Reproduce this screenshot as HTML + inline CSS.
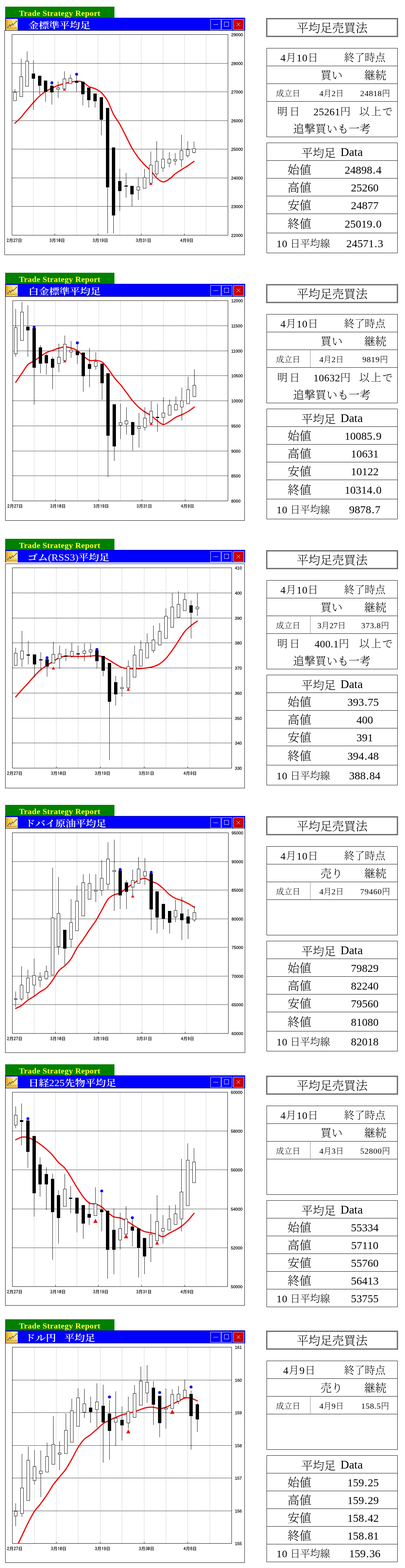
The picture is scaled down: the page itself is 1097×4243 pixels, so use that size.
<!DOCTYPE html><html><head><meta charset="utf-8"><title>平均足売買法</title><style>
html,body{margin:0;padding:0;background:#fff}
body{width:1097px;height:4243px;position:relative;overflow:hidden}
div,svg{position:absolute}
.gb{left:14px;width:296px;background:#008000}
.gb span{position:absolute;left:37.5px;top:6.5px;font:bold 22px/22px 'Liberation Serif','Noto Serif CJK JP','Noto Serif CJK SC',serif;letter-spacing:0.4px;color:#ffff33;white-space:nowrap}
.bb{left:14px;width:650px;background:#0000fe;border-top:1px solid #000088;box-sizing:border-box}
.tt{left:77px;font:600 28px/28px 'Liberation Serif','Noto Serif CJK JP','Noto Serif CJK SC',serif;color:#fff;white-space:nowrap;transform:scaleY(0.87);transform-origin:0 0}
.btn{width:29px;height:29px;background:#0000fe;border:1px solid #fff;box-sizing:border-box}
.btn.cl{background:#c80000}
.btn i{position:absolute;display:block}
.btn .mn{left:7px;top:13px;width:13px;height:1.4px;background:#fff}
.btn .mx{left:6px;top:6px;width:13px;height:13px;border:1.2px solid #fff;box-sizing:border-box}
.btn svg{left:0;top:0}
.ch text{font-family:'IPAGothic','Noto Sans CJK JP',sans-serif;font-size:12px;fill:#000;stroke:#000;stroke-width:0.3px}
.ch text.yl{font-family:'Liberation Sans',sans-serif;font-size:11.3px}
.tbox{left:721px;width:357px;height:51px;border:3px double #000;box-sizing:border-box}
.tb{left:722px;width:355px;border:1px solid #000;box-sizing:border-box}
.hl{left:722px;width:355px;height:1px;background:#000}
.vsep{left:840px;width:1px;background:repeating-linear-gradient(to bottom,#000 0 1px,transparent 1px 2px)}
.t{font-family:'Liberation Serif','Noto Serif CJK JP','Noto Serif CJK SC',serif;font-weight:300;line-height:1;text-align:center;white-space:nowrap;color:#000}
</style></head><body>
<div class="gb" style="top:18px;height:30px"><span>Trade Strategy Report</span></div>
<div class="bb" style="top:48px;height:34px"></div>
<svg class="ic" style="left:16px;top:51px" width="32" height="30.5" viewBox="0 0 32 30.5"><rect x="0" y="0" width="32" height="30.5" fill="#f2eca6"/><path d="M0 0 H12 C17 3 20 9 19 14 L30 25 V30.5 H0 Z" fill="#f7d055"/><path d="M0 0 H6 C10 4 12 10 11 16 L17 30.5 H0 Z" fill="#f4bd35" opacity="0.6"/><path d="M19 14 L30 25 V30.5 H20 Z" fill="#f8d860" opacity="0.7"/><rect x="0" y="27" width="32" height="3.5" fill="#f5c868"/><path d="M3.1 2.5 V25.3 H31" fill="none" stroke="#c07a18" stroke-width="1.3"/><path d="M1.5 6 H5 M1.5 9 H5 M1.5 12 H5 M1.5 15 H5 M1.5 18 H5 M1.5 21 H5" stroke="#d89a40" stroke-width="0.7"/><path d="M4.4 24.3 L10.7 15.8 L12.5 20.4 L17.9 12.8" fill="none" stroke="#4f5a6e" stroke-width="1.7" stroke-linejoin="miter"/><path d="M17.9 12.8 L19.4 16.1 L29 6.3" fill="none" stroke="#7a5a20" stroke-width="1.7"/><path d="M26.3 5.6 L30.2 4.9 L29.6 8.8 Z" fill="#7a5a20"/><path d="M27 23.6 L30 20.8" stroke="#777" stroke-width="0.9"/></svg>
<div class="tt" style="top:56.8px;left:77px;letter-spacing:0px;word-spacing:0px">金標準平均足</div>
<div class="btn" style="left:570px;top:52px"><i class="mn"></i></div>
<div class="btn" style="left:600px;top:52px"><i class="mx"></i></div>
<div class="btn cl" style="left:632px;top:52px"><svg width="27" height="27" viewBox="0 0 27 27"><path d="M7.8 8 L17.8 18 M17.8 8 L7.8 18" stroke="#fff" stroke-width="1"/></svg></div>
<svg class="ch" style="left:12px;top:82px" width="651" height="608" viewBox="12 82 651 608" shape-rendering="crispEdges"><rect x="12.5" y="82.5" width="650" height="607" fill="#fff" stroke="#000" stroke-width="1"/><line x1="90.5" y1="93" x2="90.5" y2="636" stroke="#d2d2d2" stroke-width="1"/><line x1="148.5" y1="93" x2="148.5" y2="636" stroke="#d2d2d2" stroke-width="1"/><line x1="207.5" y1="93" x2="207.5" y2="636" stroke="#d2d2d2" stroke-width="1"/><line x1="265.5" y1="93" x2="265.5" y2="636" stroke="#d2d2d2" stroke-width="1"/><line x1="324.5" y1="93" x2="324.5" y2="636" stroke="#d2d2d2" stroke-width="1"/><line x1="382.5" y1="93" x2="382.5" y2="636" stroke="#d2d2d2" stroke-width="1"/><line x1="441.5" y1="93" x2="441.5" y2="636" stroke="#d2d2d2" stroke-width="1"/><line x1="499.5" y1="93" x2="499.5" y2="636" stroke="#d2d2d2" stroke-width="1"/><line x1="558.5" y1="93" x2="558.5" y2="636" stroke="#d2d2d2" stroke-width="1"/><line x1="33" y1="171.5" x2="617" y2="171.5" stroke="#000" stroke-width="1" stroke-dasharray="3 1"/><line x1="33" y1="248.5" x2="617" y2="248.5" stroke="#000" stroke-width="1" stroke-dasharray="3 1"/><line x1="33" y1="326.5" x2="617" y2="326.5" stroke="#000" stroke-width="1" stroke-dasharray="3 1"/><line x1="33" y1="403.5" x2="617" y2="403.5" stroke="#000" stroke-width="1" stroke-dasharray="3 1"/><line x1="33" y1="481.5" x2="617" y2="481.5" stroke="#000" stroke-width="1" stroke-dasharray="3 1"/><line x1="33" y1="558.5" x2="617" y2="558.5" stroke="#000" stroke-width="1" stroke-dasharray="3 1"/><line x1="148.5" y1="632" x2="148.5" y2="636" stroke="#000" stroke-width="1"/><line x1="265.5" y1="632" x2="265.5" y2="636" stroke="#000" stroke-width="1"/><line x1="382.5" y1="632" x2="382.5" y2="636" stroke="#000" stroke-width="1"/><line x1="499.5" y1="632" x2="499.5" y2="636" stroke="#000" stroke-width="1"/><g shape-rendering="auto"><text x="626.3" y="97.9" class="yl">29000</text><text x="626.3" y="175.9" class="yl">28000</text><text x="626.3" y="252.9" class="yl">27000</text><text x="626.3" y="330.9" class="yl">26000</text><text x="626.3" y="407.9" class="yl">25000</text><text x="626.3" y="485.9" class="yl">24000</text><text x="626.3" y="562.9" class="yl">23000</text><text x="626.3" y="640.9" class="yl">22000</text><text x="39" y="654.8" class="xl" text-anchor="middle">2月27日</text><text x="155" y="654.8" class="xl" text-anchor="middle">3月10日</text><text x="272" y="654.8" class="xl" text-anchor="middle">3月19日</text><text x="389" y="654.8" class="xl" text-anchor="middle">3月31日</text><text x="506" y="654.8" class="xl" text-anchor="middle">4月9日</text></g><clipPath id="cp0"><rect x="33" y="94" width="584" height="542"/></clipPath><g clip-path="url(#cp0)"><g shape-rendering="auto"><circle cx="140.5" cy="223.93" r="3.9" fill="#0000ee"/><path d="M174.5 238.95 L179.1 245.55 L169.9 245.55 Z" fill="#ee1111"/><circle cx="207.5" cy="200.81" r="3.9" fill="#0000ee"/><path d="M408.5 494 L413.1 500.6 L403.9 500.6 Z" fill="#ee1111"/></g><path shape-rendering="auto" d="M40.5 333.24 C43.33 330.49 52 322.73 57.5 316.72 C63 310.71 68 303.71 73.5 297.2 C79 290.69 84.83 283.94 90.5 277.68 C96.17 271.43 102 264.68 107.5 259.67 C113 254.67 118 251.15 123.5 247.65 C129 244.15 134.83 241.4 140.5 238.65 C146.17 235.9 151.83 233.24 157.5 231.14 C163.17 229.04 169 227.43 174.5 226.03 C180 224.63 185 223.78 190.5 222.73 C196 221.68 201.83 219.83 207.5 219.73 C213.17 219.63 219 219.73 224.5 222.13 C230 224.53 235 231.14 240.5 234.14 C246 237.14 251.83 237.4 257.5 240.15 C263.17 242.9 268.83 245.16 274.5 250.66 C280.17 256.17 286 263.42 291.5 273.18 C297 282.94 302 298.71 307.5 309.22 C313 319.73 318.83 326.23 324.5 336.24 C330.17 346.25 336 358.52 341.5 369.28 C347 380.04 352 391.3 357.5 400.81 C363 410.32 368.83 418.82 374.5 426.33 C380.17 433.84 385.83 439.88 391.5 445.85 C397.17 451.82 403 456.19 408.5 462.16 C414 468.13 419 476.68 424.5 481.68 C430 486.69 435.83 491.69 441.5 492.19 C447.17 492.69 453 488.28 458.5 484.68 C464 481.08 469 474.82 474.5 470.57 C480 466.32 485.83 462.81 491.5 459.16 C497.17 455.51 502.83 452.4 508.5 448.65 C514.17 444.9 522.67 438.64 525.5 436.64" fill="none" stroke="#f00a0a" stroke-width="3.2" stroke-linejoin="round" stroke-linecap="round"/><line x1="40.5" y1="241" x2="40.5" y2="273" stroke="#000" stroke-width="1"/><rect x="36.5" y="249.5" width="8" height="23" fill="#fff" stroke="#000" stroke-width="1"/><line x1="57.5" y1="159" x2="57.5" y2="262" stroke="#000" stroke-width="1"/><rect x="53.5" y="207.5" width="8" height="54" fill="#fff" stroke="#000" stroke-width="1"/><line x1="73.5" y1="139" x2="73.5" y2="234" stroke="#000" stroke-width="1"/><rect x="69.5" y="165.5" width="8" height="68" fill="#fff" stroke="#000" stroke-width="1"/><line x1="90.5" y1="163" x2="90.5" y2="297" stroke="#000" stroke-width="1"/><rect x="86.5" y="199.5" width="8" height="13" fill="#000" stroke="#000" stroke-width="1"/><line x1="107.5" y1="205" x2="107.5" y2="256" stroke="#000" stroke-width="1"/><rect x="103.5" y="205.5" width="8" height="26" fill="#000" stroke="#000" stroke-width="1"/><line x1="123.5" y1="218" x2="123.5" y2="276" stroke="#000" stroke-width="1"/><rect x="119.5" y="218.5" width="8" height="29" fill="#000" stroke="#000" stroke-width="1"/><line x1="140.5" y1="228" x2="140.5" y2="283" stroke="#000" stroke-width="1"/><rect x="136.5" y="232.5" width="8" height="17" fill="#000" stroke="#000" stroke-width="1"/><line x1="157.5" y1="221" x2="157.5" y2="265" stroke="#000" stroke-width="1"/><rect x="153.5" y="237.5" width="8" height="4" fill="#fff" stroke="#000" stroke-width="1"/><line x1="174.5" y1="193" x2="174.5" y2="241" stroke="#000" stroke-width="1"/><rect x="170.5" y="213.5" width="8" height="27" fill="#fff" stroke="#000" stroke-width="1"/><line x1="190.5" y1="202" x2="190.5" y2="227" stroke="#000" stroke-width="1"/><rect x="186.5" y="211.5" width="8" height="15" fill="#fff" stroke="#000" stroke-width="1"/><line x1="207.5" y1="205" x2="207.5" y2="249" stroke="#000" stroke-width="1"/><rect x="203.5" y="219.5" width="8" height="4" fill="#000" stroke="#000" stroke-width="1"/><line x1="224.5" y1="221" x2="224.5" y2="285" stroke="#000" stroke-width="1"/><rect x="220.5" y="221.5" width="8" height="33" fill="#000" stroke="#000" stroke-width="1"/><line x1="240.5" y1="237" x2="240.5" y2="291" stroke="#000" stroke-width="1"/><rect x="236.5" y="237.5" width="8" height="33" fill="#000" stroke="#000" stroke-width="1"/><line x1="257.5" y1="253" x2="257.5" y2="291" stroke="#000" stroke-width="1"/><rect x="253.5" y="253.5" width="8" height="20" fill="#000" stroke="#000" stroke-width="1"/><line x1="274.5" y1="263" x2="274.5" y2="366" stroke="#000" stroke-width="1"/><rect x="270.5" y="263.5" width="8" height="60" fill="#000" stroke="#000" stroke-width="1"/><line x1="291.5" y1="292" x2="291.5" y2="632" stroke="#000" stroke-width="1"/><rect x="287.5" y="292.5" width="8" height="214" fill="#000" stroke="#000" stroke-width="1"/><line x1="307.5" y1="399" x2="307.5" y2="632" stroke="#000" stroke-width="1"/><rect x="303.5" y="399.5" width="8" height="183" fill="#000" stroke="#000" stroke-width="1"/><line x1="324.5" y1="457" x2="324.5" y2="571" stroke="#000" stroke-width="1"/><rect x="320.5" y="490.5" width="8" height="26" fill="#000" stroke="#000" stroke-width="1"/><line x1="341.5" y1="468" x2="341.5" y2="535" stroke="#000" stroke-width="1"/><rect x="337.5" y="502.5" width="8" height="2" fill="#000" stroke="#000" stroke-width="1"/><line x1="357.5" y1="503" x2="357.5" y2="559" stroke="#000" stroke-width="1"/><rect x="353.5" y="503.5" width="8" height="22" fill="#000" stroke="#000" stroke-width="1"/><line x1="374.5" y1="480" x2="374.5" y2="541" stroke="#000" stroke-width="1"/><rect x="370.5" y="505.5" width="8" height="9" fill="#fff" stroke="#000" stroke-width="1"/><line x1="391.5" y1="457" x2="391.5" y2="510" stroke="#000" stroke-width="1"/><rect x="387.5" y="480.5" width="8" height="29" fill="#fff" stroke="#000" stroke-width="1"/><line x1="408.5" y1="410" x2="408.5" y2="496" stroke="#000" stroke-width="1"/><rect x="404.5" y="446.5" width="8" height="49" fill="#fff" stroke="#000" stroke-width="1"/><line x1="424.5" y1="382" x2="424.5" y2="478" stroke="#000" stroke-width="1"/><rect x="420.5" y="436.5" width="8" height="34" fill="#fff" stroke="#000" stroke-width="1"/><line x1="441.5" y1="405" x2="441.5" y2="465" stroke="#000" stroke-width="1"/><rect x="437.5" y="430.5" width="8" height="24" fill="#fff" stroke="#000" stroke-width="1"/><line x1="458.5" y1="412" x2="458.5" y2="453" stroke="#000" stroke-width="1"/><rect x="454.5" y="430.5" width="8" height="11" fill="#fff" stroke="#000" stroke-width="1"/><line x1="474.5" y1="414" x2="474.5" y2="447" stroke="#000" stroke-width="1"/><rect x="470.5" y="431.5" width="8" height="4" fill="#fff" stroke="#000" stroke-width="1"/><line x1="491.5" y1="365" x2="491.5" y2="453" stroke="#000" stroke-width="1"/><rect x="487.5" y="407.5" width="8" height="25" fill="#fff" stroke="#000" stroke-width="1"/><line x1="508.5" y1="382" x2="508.5" y2="426" stroke="#000" stroke-width="1"/><rect x="504.5" y="404.5" width="8" height="17" fill="#fff" stroke="#000" stroke-width="1"/><line x1="525.5" y1="383" x2="525.5" y2="415" stroke="#000" stroke-width="1"/><rect x="521.5" y="402.5" width="8" height="10" fill="#fff" stroke="#000" stroke-width="1"/></g><rect x="32.5" y="93.5" width="585" height="543" fill="none" stroke="#000" stroke-width="1"/></svg>
<div class="tbox" style="top:49px"></div>
<div class="t" style="top:60.2px;left:721px;width:357px;font-size:32px">平均足売買法</div>
<div class="tb" style="top:130px;height:241px"></div>
<div class="hl" style="top:178px"></div>
<div class="hl" style="top:226px"></div>
<div class="hl" style="top:274px"></div>
<div class="t" style="top:142.8px;left:722px;width:178px;font-size:28px;letter-spacing:1px">4月10日</div>
<div class="t" style="top:142.8px;left:900px;width:176px;font-size:28px">終了時点</div>
<div class="t" style="top:188.8px;left:839px;width:118px;font-size:30px">買い</div>
<div class="t" style="top:188.8px;left:957px;width:119px;font-size:30px">継続</div>
<div class="t" style="top:241.8px;left:722px;width:117px;font-size:22px">成立日</div>
<div class="t" style="top:241.8px;left:839px;width:118px;font-size:22px">4月2日</div>
<div class="t" style="top:241.8px;left:957px;width:119px;font-size:22px;letter-spacing:0.8px">24818円</div>
<div class="t" style="top:288.8px;left:722px;width:354px;height:30px;font-size:28px"><span style="position:absolute;left:29px;top:0;letter-spacing:5px">明日</span><span style="position:absolute;left:127px;top:0;width:100px;text-align:center;letter-spacing:0.5px">25261円</span><span style="position:absolute;left:251px;top:0;letter-spacing:3.5px">以上で</span></div>
<div class="t" style="top:333.8px;left:722px;width:354px;font-size:30px">追撃買いも一考</div>
<div class="tb" style="top:386px;height:299px"></div>
<div class="hl" style="top:434px"></div>
<div class="hl" style="top:482px"></div>
<div class="hl" style="top:530px"></div>
<div class="hl" style="top:578px"></div>
<div class="hl" style="top:630px"></div>
<div class="t" style="top:397.8px;left:722px;width:355px;font-size:31px">平均足<span style="display:inline-block;width:13px"></span><span style="font-size:32px;position:relative;top:-2.5px">Data</span></div>
<div class="t" style="top:443.8px;left:722px;width:178px;font-size:32px">始値</div>
<div class="t" style="top:444.8px;left:895.5px;width:176px;font-size:30px">24898<span style="display:inline-block;width:10px;text-align:center">.</span>4</div>
<div class="t" style="top:491.8px;left:722px;width:178px;font-size:32px">高値</div>
<div class="t" style="top:492.8px;left:900px;width:176px;font-size:30px">25260</div>
<div class="t" style="top:539.8px;left:722px;width:178px;font-size:32px">安値</div>
<div class="t" style="top:540.8px;left:900px;width:176px;font-size:30px">24877</div>
<div class="t" style="top:589.8px;left:722px;width:178px;font-size:32px">終値</div>
<div class="t" style="top:590.8px;left:895.5px;width:176px;font-size:30px">25019<span style="display:inline-block;width:10px;text-align:center">.</span>0</div>
<div class="t" style="top:646.3px;left:722px;width:200px;font-size:27px;text-align:left;padding-left:27px"><span style="font-size:28px;letter-spacing:1px">10</span><span style="display:inline-block;width:7px"></span>日平均線</div>
<div class="t" style="top:643.8px;left:900px;width:176px;font-size:30px">24571<span style="display:inline-block;width:10px;text-align:center">.</span>3</div>
<div class="gb" style="top:738px;height:30px"><span>Trade Strategy Report</span></div>
<div class="bb" style="top:768px;height:34px"></div>
<svg class="ic" style="left:16px;top:771px" width="32" height="30.5" viewBox="0 0 32 30.5"><rect x="0" y="0" width="32" height="30.5" fill="#f2eca6"/><path d="M0 0 H12 C17 3 20 9 19 14 L30 25 V30.5 H0 Z" fill="#f7d055"/><path d="M0 0 H6 C10 4 12 10 11 16 L17 30.5 H0 Z" fill="#f4bd35" opacity="0.6"/><path d="M19 14 L30 25 V30.5 H20 Z" fill="#f8d860" opacity="0.7"/><rect x="0" y="27" width="32" height="3.5" fill="#f5c868"/><path d="M3.1 2.5 V25.3 H31" fill="none" stroke="#c07a18" stroke-width="1.3"/><path d="M1.5 6 H5 M1.5 9 H5 M1.5 12 H5 M1.5 15 H5 M1.5 18 H5 M1.5 21 H5" stroke="#d89a40" stroke-width="0.7"/><path d="M4.4 24.3 L10.7 15.8 L12.5 20.4 L17.9 12.8" fill="none" stroke="#4f5a6e" stroke-width="1.7" stroke-linejoin="miter"/><path d="M17.9 12.8 L19.4 16.1 L29 6.3" fill="none" stroke="#7a5a20" stroke-width="1.7"/><path d="M26.3 5.6 L30.2 4.9 L29.6 8.8 Z" fill="#7a5a20"/><path d="M27 23.6 L30 20.8" stroke="#777" stroke-width="0.9"/></svg>
<div class="tt" style="top:776.8px;left:77px;letter-spacing:0px;word-spacing:0px">白金標準平均足</div>
<div class="btn" style="left:570px;top:772px"><i class="mn"></i></div>
<div class="btn" style="left:600px;top:772px"><i class="mx"></i></div>
<div class="btn cl" style="left:632px;top:772px"><svg width="27" height="27" viewBox="0 0 27 27"><path d="M7.8 8 L17.8 18 M17.8 8 L7.8 18" stroke="#fff" stroke-width="1"/></svg></div>
<svg class="ch" style="left:14px;top:802px" width="649" height="607" viewBox="14 802 649 607" shape-rendering="crispEdges"><rect x="14.5" y="802.5" width="648" height="606" fill="#fff" stroke="#000" stroke-width="1"/><line x1="92.5" y1="813" x2="92.5" y2="1355" stroke="#d2d2d2" stroke-width="1"/><line x1="150.5" y1="813" x2="150.5" y2="1355" stroke="#d2d2d2" stroke-width="1"/><line x1="209.5" y1="813" x2="209.5" y2="1355" stroke="#d2d2d2" stroke-width="1"/><line x1="267.5" y1="813" x2="267.5" y2="1355" stroke="#d2d2d2" stroke-width="1"/><line x1="326.5" y1="813" x2="326.5" y2="1355" stroke="#d2d2d2" stroke-width="1"/><line x1="384.5" y1="813" x2="384.5" y2="1355" stroke="#d2d2d2" stroke-width="1"/><line x1="442.5" y1="813" x2="442.5" y2="1355" stroke="#d2d2d2" stroke-width="1"/><line x1="501.5" y1="813" x2="501.5" y2="1355" stroke="#d2d2d2" stroke-width="1"/><line x1="559.5" y1="813" x2="559.5" y2="1355" stroke="#d2d2d2" stroke-width="1"/><line x1="35" y1="881.5" x2="617" y2="881.5" stroke="#000" stroke-width="1" stroke-dasharray="3 1"/><line x1="35" y1="949.5" x2="617" y2="949.5" stroke="#000" stroke-width="1" stroke-dasharray="3 1"/><line x1="35" y1="1016.5" x2="617" y2="1016.5" stroke="#000" stroke-width="1" stroke-dasharray="3 1"/><line x1="35" y1="1084.5" x2="617" y2="1084.5" stroke="#000" stroke-width="1" stroke-dasharray="3 1"/><line x1="35" y1="1152.5" x2="617" y2="1152.5" stroke="#000" stroke-width="1" stroke-dasharray="3 1"/><line x1="35" y1="1220.5" x2="617" y2="1220.5" stroke="#000" stroke-width="1" stroke-dasharray="3 1"/><line x1="35" y1="1287.5" x2="617" y2="1287.5" stroke="#000" stroke-width="1" stroke-dasharray="3 1"/><line x1="150.5" y1="1351" x2="150.5" y2="1355" stroke="#000" stroke-width="1"/><line x1="267.5" y1="1351" x2="267.5" y2="1355" stroke="#000" stroke-width="1"/><line x1="384.5" y1="1351" x2="384.5" y2="1355" stroke="#000" stroke-width="1"/><line x1="501.5" y1="1351" x2="501.5" y2="1355" stroke="#000" stroke-width="1"/><g shape-rendering="auto"><text x="626.3" y="817.9" class="yl">12000</text><text x="626.3" y="885.9" class="yl">11500</text><text x="626.3" y="953.9" class="yl">11000</text><text x="626.3" y="1020.9" class="yl">10500</text><text x="626.3" y="1088.9" class="yl">10000</text><text x="626.3" y="1156.9" class="yl">9500</text><text x="626.3" y="1224.9" class="yl">9000</text><text x="626.3" y="1291.9" class="yl">8500</text><text x="626.3" y="1359.9" class="yl">8000</text><text x="41" y="1373.8" class="xl" text-anchor="middle">2月27日</text><text x="157" y="1373.8" class="xl" text-anchor="middle">3月10日</text><text x="274" y="1373.8" class="xl" text-anchor="middle">3月19日</text><text x="391" y="1373.8" class="xl" text-anchor="middle">3月31日</text><text x="508" y="1373.8" class="xl" text-anchor="middle">4月9日</text></g><clipPath id="cp1"><rect x="35" y="814" width="582" height="541"/></clipPath><g clip-path="url(#cp1)"><g shape-rendering="auto"><circle cx="92.5" cy="885.07" r="3.9" fill="#0000ee"/><path d="M175.5 973.36 L180.1 980.57 L170.9 980.57 Z" fill="#ee1111"/><circle cx="209.5" cy="927.71" r="3.9" fill="#0000ee"/><path d="M409.5 1143.03 L414.1 1150.24 L404.9 1150.24 Z" fill="#ee1111"/></g><path shape-rendering="auto" d="M42.5 1034.62 C45.33 1030.47 54 1017.71 59.5 1009.7 C65 1001.69 70 992.08 75.5 986.57 C81 981.06 86.83 980.31 92.5 976.66 C98.17 973.01 104 968.4 109.5 964.65 C115 960.9 120 956.89 125.5 954.14 C131 951.39 136.83 950.14 142.5 948.14 C148.17 946.14 154 943.73 159.5 942.13 C165 940.53 170 938.63 175.5 938.53 C181 938.43 186.83 939.83 192.5 941.53 C198.17 943.23 204 945.14 209.5 948.74 C215 952.34 220 958.75 225.5 963.15 C231 967.55 236.83 973.16 242.5 975.16 C248.17 977.16 253.83 974.41 259.5 975.16 C265.17 975.91 271 975.92 276.5 979.67 C282 983.42 287 990.67 292.5 997.68 C298 1004.69 303.83 1014.45 309.5 1021.71 C315.17 1028.97 321 1034.47 326.5 1041.23 C332 1047.99 337 1054.99 342.5 1062.25 C348 1069.51 353.83 1078.01 359.5 1084.77 C365.17 1091.53 371 1097.78 376.5 1102.79 C382 1107.8 387 1111.15 392.5 1114.8 C398 1118.45 403.83 1120.7 409.5 1124.71 C415.17 1128.72 421 1134.82 426.5 1138.83 C432 1142.84 437 1148.49 442.5 1148.74 C448 1148.99 453.83 1143.63 459.5 1140.33 C465.17 1137.03 471 1131.92 476.5 1128.92 C482 1125.92 487 1124.91 492.5 1122.31 C498 1119.71 503.83 1116.8 509.5 1113.3 C515.17 1109.8 523.67 1103.29 526.5 1101.29" fill="none" stroke="#f00a0a" stroke-width="3.2" stroke-linejoin="round" stroke-linecap="round"/><line x1="42.5" y1="836" x2="42.5" y2="965" stroke="#000" stroke-width="1"/><rect x="38.5" y="886.5" width="8" height="71" fill="#fff" stroke="#000" stroke-width="1"/><line x1="59.5" y1="817" x2="59.5" y2="922" stroke="#000" stroke-width="1"/><rect x="55.5" y="844.5" width="8" height="77" fill="#fff" stroke="#000" stroke-width="1"/><line x1="75.5" y1="826" x2="75.5" y2="965" stroke="#000" stroke-width="1"/><rect x="71.5" y="884.5" width="8" height="9" fill="#000" stroke="#000" stroke-width="1"/><line x1="92.5" y1="888" x2="92.5" y2="1095" stroke="#000" stroke-width="1"/><rect x="88.5" y="888.5" width="8" height="106" fill="#000" stroke="#000" stroke-width="1"/><line x1="109.5" y1="934" x2="109.5" y2="1010" stroke="#000" stroke-width="1"/><rect x="105.5" y="940.5" width="8" height="43" fill="#000" stroke="#000" stroke-width="1"/><line x1="125.5" y1="956" x2="125.5" y2="1014" stroke="#000" stroke-width="1"/><rect x="121.5" y="961.5" width="8" height="21" fill="#000" stroke="#000" stroke-width="1"/><line x1="142.5" y1="965" x2="142.5" y2="1053" stroke="#000" stroke-width="1"/><rect x="138.5" y="971.5" width="8" height="23" fill="#000" stroke="#000" stroke-width="1"/><line x1="159.5" y1="930" x2="159.5" y2="1007" stroke="#000" stroke-width="1"/><rect x="155.5" y="966.5" width="8" height="17" fill="#fff" stroke="#000" stroke-width="1"/><line x1="175.5" y1="908" x2="175.5" y2="976" stroke="#000" stroke-width="1"/><rect x="171.5" y="931.5" width="8" height="44" fill="#fff" stroke="#000" stroke-width="1"/><line x1="192.5" y1="923" x2="192.5" y2="968" stroke="#000" stroke-width="1"/><rect x="188.5" y="947.5" width="8" height="5" fill="#fff" stroke="#000" stroke-width="1"/><line x1="209.5" y1="932" x2="209.5" y2="985" stroke="#000" stroke-width="1"/><rect x="205.5" y="950.5" width="8" height="10" fill="#000" stroke="#000" stroke-width="1"/><line x1="225.5" y1="954" x2="225.5" y2="1060" stroke="#000" stroke-width="1"/><rect x="221.5" y="954.5" width="8" height="63" fill="#000" stroke="#000" stroke-width="1"/><line x1="242.5" y1="942" x2="242.5" y2="1048" stroke="#000" stroke-width="1"/><rect x="238.5" y="985.5" width="8" height="12" fill="#000" stroke="#000" stroke-width="1"/><line x1="259.5" y1="953" x2="259.5" y2="1000" stroke="#000" stroke-width="1"/><rect x="255.5" y="978.5" width="8" height="13" fill="#fff" stroke="#000" stroke-width="1"/><line x1="276.5" y1="984" x2="276.5" y2="1082" stroke="#000" stroke-width="1"/><rect x="272.5" y="984.5" width="8" height="52" fill="#000" stroke="#000" stroke-width="1"/><line x1="292.5" y1="1010" x2="292.5" y2="1291" stroke="#000" stroke-width="1"/><rect x="288.5" y="1010.5" width="8" height="168" fill="#000" stroke="#000" stroke-width="1"/><line x1="309.5" y1="1094" x2="309.5" y2="1247" stroke="#000" stroke-width="1"/><rect x="305.5" y="1094.5" width="8" height="113" fill="#000" stroke="#000" stroke-width="1"/><line x1="326.5" y1="1092" x2="326.5" y2="1188" stroke="#000" stroke-width="1"/><rect x="322.5" y="1143.5" width="8" height="7" fill="#fff" stroke="#000" stroke-width="1"/><line x1="342.5" y1="1102" x2="342.5" y2="1176" stroke="#000" stroke-width="1"/><rect x="338.5" y="1138.5" width="8" height="9" fill="#fff" stroke="#000" stroke-width="1"/><line x1="359.5" y1="1142" x2="359.5" y2="1219" stroke="#000" stroke-width="1"/><rect x="355.5" y="1142.5" width="8" height="34" fill="#000" stroke="#000" stroke-width="1"/><line x1="376.5" y1="1118" x2="376.5" y2="1211" stroke="#000" stroke-width="1"/><rect x="372.5" y="1154.5" width="8" height="5" fill="#fff" stroke="#000" stroke-width="1"/><line x1="392.5" y1="1102" x2="392.5" y2="1165" stroke="#000" stroke-width="1"/><rect x="388.5" y="1131.5" width="8" height="25" fill="#fff" stroke="#000" stroke-width="1"/><line x1="409.5" y1="1086" x2="409.5" y2="1145" stroke="#000" stroke-width="1"/><rect x="405.5" y="1112.5" width="8" height="32" fill="#fff" stroke="#000" stroke-width="1"/><line x1="426.5" y1="1092" x2="426.5" y2="1168" stroke="#000" stroke-width="1"/><rect x="422.5" y="1128.5" width="8" height="2" fill="#000" stroke="#000" stroke-width="1"/><line x1="442.5" y1="1075" x2="442.5" y2="1150" stroke="#000" stroke-width="1"/><rect x="438.5" y="1117.5" width="8" height="12" fill="#fff" stroke="#000" stroke-width="1"/><line x1="459.5" y1="1081" x2="459.5" y2="1124" stroke="#000" stroke-width="1"/><rect x="455.5" y="1096.5" width="8" height="27" fill="#fff" stroke="#000" stroke-width="1"/><line x1="476.5" y1="1073" x2="476.5" y2="1111" stroke="#000" stroke-width="1"/><rect x="472.5" y="1094.5" width="8" height="15" fill="#fff" stroke="#000" stroke-width="1"/><line x1="492.5" y1="1049" x2="492.5" y2="1138" stroke="#000" stroke-width="1"/><rect x="488.5" y="1084.5" width="8" height="17" fill="#fff" stroke="#000" stroke-width="1"/><line x1="509.5" y1="1019" x2="509.5" y2="1093" stroke="#000" stroke-width="1"/><rect x="505.5" y="1054.5" width="8" height="38" fill="#fff" stroke="#000" stroke-width="1"/><line x1="526.5" y1="999" x2="526.5" y2="1074" stroke="#000" stroke-width="1"/><rect x="522.5" y="1042.5" width="8" height="31" fill="#fff" stroke="#000" stroke-width="1"/></g><rect x="34.5" y="813.5" width="583" height="542" fill="none" stroke="#000" stroke-width="1"/></svg>
<div class="tbox" style="top:769px"></div>
<div class="t" style="top:780.2px;left:721px;width:357px;font-size:32px">平均足売買法</div>
<div class="tb" style="top:850px;height:241px"></div>
<div class="hl" style="top:898px"></div>
<div class="hl" style="top:946px"></div>
<div class="hl" style="top:994px"></div>
<div class="vsep" style="top:948px;height:46px"></div>
<div class="t" style="top:862.8px;left:722px;width:178px;font-size:28px;letter-spacing:1px">4月10日</div>
<div class="t" style="top:862.8px;left:900px;width:176px;font-size:28px">終了時点</div>
<div class="t" style="top:908.8px;left:839px;width:118px;font-size:30px">買い</div>
<div class="t" style="top:908.8px;left:957px;width:119px;font-size:30px">継続</div>
<div class="t" style="top:961.8px;left:722px;width:117px;font-size:22px">成立日</div>
<div class="t" style="top:961.8px;left:839px;width:118px;font-size:22px">4月2日</div>
<div class="t" style="top:961.8px;left:957px;width:119px;font-size:22px;letter-spacing:0.8px">9819円</div>
<div class="t" style="top:1008.8px;left:722px;width:354px;height:30px;font-size:28px"><span style="position:absolute;left:29px;top:0;letter-spacing:5px">明日</span><span style="position:absolute;left:127px;top:0;width:100px;text-align:center;letter-spacing:0.5px">10632円</span><span style="position:absolute;left:251px;top:0;letter-spacing:3.5px">以上で</span></div>
<div class="t" style="top:1053.8px;left:722px;width:354px;font-size:30px">追撃買いも一考</div>
<div class="tb" style="top:1106px;height:299px"></div>
<div class="hl" style="top:1154px"></div>
<div class="hl" style="top:1202px"></div>
<div class="hl" style="top:1250px"></div>
<div class="hl" style="top:1298px"></div>
<div class="hl" style="top:1350px"></div>
<div class="t" style="top:1117.8px;left:722px;width:355px;font-size:31px">平均足<span style="display:inline-block;width:13px"></span><span style="font-size:32px;position:relative;top:-2.5px">Data</span></div>
<div class="t" style="top:1163.8px;left:722px;width:178px;font-size:32px">始値</div>
<div class="t" style="top:1164.8px;left:895.5px;width:176px;font-size:30px">10085<span style="display:inline-block;width:10px;text-align:center">.</span>9</div>
<div class="t" style="top:1211.8px;left:722px;width:178px;font-size:32px">高値</div>
<div class="t" style="top:1212.8px;left:900px;width:176px;font-size:30px">10631</div>
<div class="t" style="top:1259.8px;left:722px;width:178px;font-size:32px">安値</div>
<div class="t" style="top:1260.8px;left:900px;width:176px;font-size:30px">10122</div>
<div class="t" style="top:1309.8px;left:722px;width:178px;font-size:32px">終値</div>
<div class="t" style="top:1310.8px;left:895.5px;width:176px;font-size:30px">10314<span style="display:inline-block;width:10px;text-align:center">.</span>0</div>
<div class="t" style="top:1366.3px;left:722px;width:200px;font-size:27px;text-align:left;padding-left:27px"><span style="font-size:28px;letter-spacing:1px">10</span><span style="display:inline-block;width:7px"></span>日平均線</div>
<div class="t" style="top:1363.8px;left:900px;width:176px;font-size:30px">9878<span style="display:inline-block;width:10px;text-align:center">.</span>7</div>
<div class="gb" style="top:1458px;height:30px"><span>Trade Strategy Report</span></div>
<div class="bb" style="top:1488px;height:34px"></div>
<svg class="ic" style="left:16px;top:1491px" width="32" height="30.5" viewBox="0 0 32 30.5"><rect x="0" y="0" width="32" height="30.5" fill="#f2eca6"/><path d="M0 0 H12 C17 3 20 9 19 14 L30 25 V30.5 H0 Z" fill="#f7d055"/><path d="M0 0 H6 C10 4 12 10 11 16 L17 30.5 H0 Z" fill="#f4bd35" opacity="0.6"/><path d="M19 14 L30 25 V30.5 H20 Z" fill="#f8d860" opacity="0.7"/><rect x="0" y="27" width="32" height="3.5" fill="#f5c868"/><path d="M3.1 2.5 V25.3 H31" fill="none" stroke="#c07a18" stroke-width="1.3"/><path d="M1.5 6 H5 M1.5 9 H5 M1.5 12 H5 M1.5 15 H5 M1.5 18 H5 M1.5 21 H5" stroke="#d89a40" stroke-width="0.7"/><path d="M4.4 24.3 L10.7 15.8 L12.5 20.4 L17.9 12.8" fill="none" stroke="#4f5a6e" stroke-width="1.7" stroke-linejoin="miter"/><path d="M17.9 12.8 L19.4 16.1 L29 6.3" fill="none" stroke="#7a5a20" stroke-width="1.7"/><path d="M26.3 5.6 L30.2 4.9 L29.6 8.8 Z" fill="#7a5a20"/><path d="M27 23.6 L30 20.8" stroke="#777" stroke-width="0.9"/></svg>
<div class="tt" style="top:1496.8px;left:74px;letter-spacing:0px;word-spacing:0px">ゴム<span style="font-weight:400">(RSS3)</span>平均足</div>
<div class="btn" style="left:570px;top:1492px"><i class="mn"></i></div>
<div class="btn" style="left:600px;top:1492px"><i class="mx"></i></div>
<div class="btn cl" style="left:632px;top:1492px"><svg width="27" height="27" viewBox="0 0 27 27"><path d="M7.8 8 L17.8 18 M17.8 8 L7.8 18" stroke="#fff" stroke-width="1"/></svg></div>
<svg class="ch" style="left:14px;top:1525px" width="649" height="608" viewBox="14 1525 649 608" shape-rendering="crispEdges"><rect x="14.5" y="1525.5" width="648" height="607" fill="#fff" stroke="#000" stroke-width="1"/><line x1="93.5" y1="1536" x2="93.5" y2="2078" stroke="#d2d2d2" stroke-width="1"/><line x1="152.5" y1="1536" x2="152.5" y2="2078" stroke="#d2d2d2" stroke-width="1"/><line x1="211.5" y1="1536" x2="211.5" y2="2078" stroke="#d2d2d2" stroke-width="1"/><line x1="271.5" y1="1536" x2="271.5" y2="2078" stroke="#d2d2d2" stroke-width="1"/><line x1="330.5" y1="1536" x2="330.5" y2="2078" stroke="#d2d2d2" stroke-width="1"/><line x1="390.5" y1="1536" x2="390.5" y2="2078" stroke="#d2d2d2" stroke-width="1"/><line x1="449.5" y1="1536" x2="449.5" y2="2078" stroke="#d2d2d2" stroke-width="1"/><line x1="508.5" y1="1536" x2="508.5" y2="2078" stroke="#d2d2d2" stroke-width="1"/><line x1="568.5" y1="1536" x2="568.5" y2="2078" stroke="#d2d2d2" stroke-width="1"/><line x1="34" y1="1604.5" x2="627" y2="1604.5" stroke="#000" stroke-width="1" stroke-dasharray="3 1"/><line x1="34" y1="1672.5" x2="627" y2="1672.5" stroke="#000" stroke-width="1" stroke-dasharray="3 1"/><line x1="34" y1="1739.5" x2="627" y2="1739.5" stroke="#000" stroke-width="1" stroke-dasharray="3 1"/><line x1="34" y1="1807.5" x2="627" y2="1807.5" stroke="#000" stroke-width="1" stroke-dasharray="3 1"/><line x1="34" y1="1875.5" x2="627" y2="1875.5" stroke="#000" stroke-width="1" stroke-dasharray="3 1"/><line x1="34" y1="1943.5" x2="627" y2="1943.5" stroke="#000" stroke-width="1" stroke-dasharray="3 1"/><line x1="34" y1="2010.5" x2="627" y2="2010.5" stroke="#000" stroke-width="1" stroke-dasharray="3 1"/><line x1="152.5" y1="2074" x2="152.5" y2="2078" stroke="#000" stroke-width="1"/><line x1="271.5" y1="2074" x2="271.5" y2="2078" stroke="#000" stroke-width="1"/><line x1="390.5" y1="2074" x2="390.5" y2="2078" stroke="#000" stroke-width="1"/><line x1="508.5" y1="2074" x2="508.5" y2="2078" stroke="#000" stroke-width="1"/><g shape-rendering="auto"><text x="636.3" y="1540.9" class="yl">410</text><text x="636.3" y="1608.9" class="yl">400</text><text x="636.3" y="1676.9" class="yl">390</text><text x="636.3" y="1743.9" class="yl">380</text><text x="636.3" y="1811.9" class="yl">370</text><text x="636.3" y="1879.9" class="yl">360</text><text x="636.3" y="1947.9" class="yl">350</text><text x="636.3" y="2014.9" class="yl">340</text><text x="636.3" y="2082.9" class="yl">330</text><text x="40" y="2096.8" class="xl" text-anchor="middle">2月27日</text><text x="159" y="2096.8" class="xl" text-anchor="middle">3月10日</text><text x="278" y="2096.8" class="xl" text-anchor="middle">3月19日</text><text x="397" y="2096.8" class="xl" text-anchor="middle">3月31日</text><text x="515" y="2096.8" class="xl" text-anchor="middle">4月9日</text></g><clipPath id="cp2"><rect x="34" y="1537" width="593" height="541"/></clipPath><g clip-path="url(#cp2)"><g shape-rendering="auto"><circle cx="127.5" cy="1779.84" r="3.9" fill="#0000ee"/><path d="M144.5 1803.57 L149.1 1811.68 L139.9 1811.68 Z" fill="#ee1111"/><circle cx="262.5" cy="1757.32" r="3.9" fill="#0000ee"/><path d="M347.5 1860.63 L352.1 1869.33 L342.9 1869.33 Z" fill="#ee1111"/></g><path shape-rendering="auto" d="M42.5 1885.85 C45.33 1882.6 53.83 1872.59 59.5 1866.33 C65.17 1860.07 70.83 1854.57 76.5 1848.31 C82.17 1842.05 87.83 1834.8 93.5 1828.79 C99.17 1822.78 104.83 1817.03 110.5 1812.28 C116.17 1807.53 121.83 1804.01 127.5 1800.26 C133.17 1796.51 138.83 1793.25 144.5 1789.75 C150.17 1786.25 155.83 1781.64 161.5 1779.24 C167.17 1776.84 173 1775.84 178.5 1775.34 C184 1774.84 189 1776.09 194.5 1776.24 C200 1776.39 205.83 1776.24 211.5 1776.24 C217.17 1776.24 222.83 1776.39 228.5 1776.24 C234.17 1776.09 239.83 1775.69 245.5 1775.34 C251.17 1774.99 256.83 1773.74 262.5 1774.14 C268.17 1774.54 273.83 1775.64 279.5 1777.74 C285.17 1779.84 290.83 1783.5 296.5 1786.75 C302.17 1790 307.83 1794.01 313.5 1797.26 C319.17 1800.51 324.83 1804.27 330.5 1806.27 C336.17 1808.27 341.83 1808.67 347.5 1809.27 C353.17 1809.87 358.83 1809.87 364.5 1809.87 C370.17 1809.87 375.83 1809.72 381.5 1809.27 C387.17 1808.82 392.83 1808.07 398.5 1807.17 C404.17 1806.27 409.83 1805.67 415.5 1803.87 C421.17 1802.07 426.83 1800.06 432.5 1796.36 C438.17 1792.66 443.83 1787.76 449.5 1781.65 C455.17 1775.54 460.83 1767.63 466.5 1759.72 C472.17 1751.81 477.83 1742.71 483.5 1734.2 C489.17 1725.69 494.83 1715.58 500.5 1708.67 C506.17 1701.76 511.83 1697.41 517.5 1692.76 C523.17 1688.11 531.67 1682.74 534.5 1680.74" fill="none" stroke="#f00a0a" stroke-width="3.2" stroke-linejoin="round" stroke-linecap="round"/><line x1="42.5" y1="1753" x2="42.5" y2="1801" stroke="#000" stroke-width="1"/><rect x="38.5" y="1767.5" width="8" height="33" fill="#fff" stroke="#000" stroke-width="1"/><line x1="59.5" y1="1707" x2="59.5" y2="1805" stroke="#000" stroke-width="1"/><rect x="55.5" y="1761.5" width="8" height="22" fill="#fff" stroke="#000" stroke-width="1"/><line x1="76.5" y1="1734" x2="76.5" y2="1798" stroke="#000" stroke-width="1"/><rect x="72.5" y="1771.5" width="8" height="2" fill="#000" stroke="#000" stroke-width="1"/><line x1="93.5" y1="1771" x2="93.5" y2="1833" stroke="#000" stroke-width="1"/><rect x="89.5" y="1771.5" width="8" height="26" fill="#000" stroke="#000" stroke-width="1"/><line x1="110.5" y1="1765" x2="110.5" y2="1813" stroke="#000" stroke-width="1"/><rect x="106.5" y="1784.5" width="8" height="2" fill="#000" stroke="#000" stroke-width="1"/><line x1="127.5" y1="1784" x2="127.5" y2="1831" stroke="#000" stroke-width="1"/><rect x="123.5" y="1784.5" width="8" height="19" fill="#000" stroke="#000" stroke-width="1"/><line x1="144.5" y1="1736" x2="144.5" y2="1795" stroke="#000" stroke-width="1"/><rect x="140.5" y="1770.5" width="8" height="24" fill="#fff" stroke="#000" stroke-width="1"/><line x1="161.5" y1="1747" x2="161.5" y2="1809" stroke="#000" stroke-width="1"/><rect x="157.5" y="1769.5" width="8" height="13" fill="#fff" stroke="#000" stroke-width="1"/><line x1="178.5" y1="1755" x2="178.5" y2="1789" stroke="#000" stroke-width="1"/><rect x="174.5" y="1774.5" width="8" height="2" fill="#000" stroke="#000" stroke-width="1"/><line x1="194.5" y1="1740" x2="194.5" y2="1780" stroke="#000" stroke-width="1"/><rect x="190.5" y="1762.5" width="8" height="13" fill="#fff" stroke="#000" stroke-width="1"/><line x1="211.5" y1="1747" x2="211.5" y2="1783" stroke="#000" stroke-width="1"/><rect x="207.5" y="1768.5" width="8" height="2" fill="#000" stroke="#000" stroke-width="1"/><line x1="228.5" y1="1741" x2="228.5" y2="1789" stroke="#000" stroke-width="1"/><rect x="224.5" y="1761.5" width="8" height="7" fill="#fff" stroke="#000" stroke-width="1"/><line x1="245.5" y1="1741" x2="245.5" y2="1779" stroke="#000" stroke-width="1"/><rect x="241.5" y="1758.5" width="8" height="6" fill="#fff" stroke="#000" stroke-width="1"/><line x1="262.5" y1="1760" x2="262.5" y2="1809" stroke="#000" stroke-width="1"/><rect x="258.5" y="1760.5" width="8" height="28" fill="#000" stroke="#000" stroke-width="1"/><line x1="279.5" y1="1775" x2="279.5" y2="1830" stroke="#000" stroke-width="1"/><rect x="275.5" y="1775.5" width="8" height="39" fill="#000" stroke="#000" stroke-width="1"/><line x1="296.5" y1="1794" x2="296.5" y2="2057" stroke="#000" stroke-width="1"/><rect x="292.5" y="1794.5" width="8" height="104" fill="#000" stroke="#000" stroke-width="1"/><line x1="313.5" y1="1829" x2="313.5" y2="1909" stroke="#000" stroke-width="1"/><rect x="309.5" y="1846.5" width="8" height="32" fill="#000" stroke="#000" stroke-width="1"/><line x1="330.5" y1="1831" x2="330.5" y2="1885" stroke="#000" stroke-width="1"/><rect x="326.5" y="1860.5" width="8" height="3" fill="#fff" stroke="#000" stroke-width="1"/><line x1="347.5" y1="1787" x2="347.5" y2="1862" stroke="#000" stroke-width="1"/><rect x="343.5" y="1803.5" width="8" height="58" fill="#fff" stroke="#000" stroke-width="1"/><line x1="364.5" y1="1747" x2="364.5" y2="1833" stroke="#000" stroke-width="1"/><rect x="360.5" y="1772.5" width="8" height="60" fill="#fff" stroke="#000" stroke-width="1"/><line x1="381.5" y1="1733" x2="381.5" y2="1803" stroke="#000" stroke-width="1"/><rect x="377.5" y="1758.5" width="8" height="44" fill="#fff" stroke="#000" stroke-width="1"/><line x1="398.5" y1="1714" x2="398.5" y2="1781" stroke="#000" stroke-width="1"/><rect x="394.5" y="1739.5" width="8" height="41" fill="#fff" stroke="#000" stroke-width="1"/><line x1="415.5" y1="1693" x2="415.5" y2="1767" stroke="#000" stroke-width="1"/><rect x="411.5" y="1731.5" width="8" height="29" fill="#fff" stroke="#000" stroke-width="1"/><line x1="432.5" y1="1686" x2="432.5" y2="1746" stroke="#000" stroke-width="1"/><rect x="428.5" y="1708.5" width="8" height="37" fill="#fff" stroke="#000" stroke-width="1"/><line x1="449.5" y1="1646" x2="449.5" y2="1728" stroke="#000" stroke-width="1"/><rect x="445.5" y="1667.5" width="8" height="60" fill="#fff" stroke="#000" stroke-width="1"/><line x1="466.5" y1="1604" x2="466.5" y2="1698" stroke="#000" stroke-width="1"/><rect x="462.5" y="1642.5" width="8" height="55" fill="#fff" stroke="#000" stroke-width="1"/><line x1="483.5" y1="1600" x2="483.5" y2="1671" stroke="#000" stroke-width="1"/><rect x="479.5" y="1635.5" width="8" height="35" fill="#fff" stroke="#000" stroke-width="1"/><line x1="500.5" y1="1604" x2="500.5" y2="1653" stroke="#000" stroke-width="1"/><rect x="496.5" y="1622.5" width="8" height="30" fill="#fff" stroke="#000" stroke-width="1"/><line x1="517.5" y1="1625" x2="517.5" y2="1728" stroke="#000" stroke-width="1"/><rect x="513.5" y="1638.5" width="8" height="19" fill="#000" stroke="#000" stroke-width="1"/><line x1="534.5" y1="1604" x2="534.5" y2="1667" stroke="#000" stroke-width="1"/><rect x="530.5" y="1642.5" width="8" height="5" fill="#fff" stroke="#000" stroke-width="1"/></g><rect x="33.5" y="1536.5" width="594" height="542" fill="none" stroke="#000" stroke-width="1"/></svg>
<div class="tbox" style="top:1489px"></div>
<div class="t" style="top:1500.2px;left:721px;width:357px;font-size:32px">平均足売買法</div>
<div class="tb" style="top:1570px;height:241px"></div>
<div class="hl" style="top:1618px"></div>
<div class="hl" style="top:1666px"></div>
<div class="hl" style="top:1714px"></div>
<div class="vsep" style="top:1668px;height:46px"></div>
<div class="t" style="top:1582.8px;left:722px;width:178px;font-size:28px;letter-spacing:1px">4月10日</div>
<div class="t" style="top:1582.8px;left:900px;width:176px;font-size:28px">終了時点</div>
<div class="t" style="top:1628.8px;left:839px;width:118px;font-size:30px">買い</div>
<div class="t" style="top:1628.8px;left:957px;width:119px;font-size:30px">継続</div>
<div class="t" style="top:1681.8px;left:722px;width:117px;font-size:22px">成立日</div>
<div class="t" style="top:1681.8px;left:839px;width:118px;font-size:22px">3月27日</div>
<div class="t" style="top:1681.8px;left:957px;width:119px;font-size:22px;letter-spacing:0.8px">373.8円</div>
<div class="t" style="top:1728.8px;left:722px;width:354px;height:30px;font-size:28px"><span style="position:absolute;left:29px;top:0;letter-spacing:5px">明日</span><span style="position:absolute;left:127px;top:0;width:100px;text-align:center;letter-spacing:0.5px">400.1円</span><span style="position:absolute;left:251px;top:0;letter-spacing:3.5px">以上で</span></div>
<div class="t" style="top:1773.8px;left:722px;width:354px;font-size:30px">追撃買いも一考</div>
<div class="tb" style="top:1826px;height:299px"></div>
<div class="hl" style="top:1874px"></div>
<div class="hl" style="top:1922px"></div>
<div class="hl" style="top:1970px"></div>
<div class="hl" style="top:2018px"></div>
<div class="hl" style="top:2070px"></div>
<div class="t" style="top:1837.8px;left:722px;width:355px;font-size:31px">平均足<span style="display:inline-block;width:13px"></span><span style="font-size:32px;position:relative;top:-2.5px">Data</span></div>
<div class="t" style="top:1883.8px;left:722px;width:178px;font-size:32px">始値</div>
<div class="t" style="top:1884.8px;left:895.5px;width:176px;font-size:30px">393<span style="display:inline-block;width:10px;text-align:center">.</span>75</div>
<div class="t" style="top:1931.8px;left:722px;width:178px;font-size:32px">高値</div>
<div class="t" style="top:1932.8px;left:900px;width:176px;font-size:30px">400</div>
<div class="t" style="top:1979.8px;left:722px;width:178px;font-size:32px">安値</div>
<div class="t" style="top:1980.8px;left:900px;width:176px;font-size:30px">391</div>
<div class="t" style="top:2029.8px;left:722px;width:178px;font-size:32px">終値</div>
<div class="t" style="top:2030.8px;left:895.5px;width:176px;font-size:30px">394<span style="display:inline-block;width:10px;text-align:center">.</span>48</div>
<div class="t" style="top:2086.3px;left:722px;width:200px;font-size:27px;text-align:left;padding-left:27px"><span style="font-size:28px;letter-spacing:1px">10</span><span style="display:inline-block;width:7px"></span>日平均線</div>
<div class="t" style="top:2083.8px;left:900px;width:176px;font-size:30px">388<span style="display:inline-block;width:10px;text-align:center">.</span>84</div>
<div class="gb" style="top:2178px;height:30px"><span>Trade Strategy Report</span></div>
<div class="bb" style="top:2208px;height:33px"></div>
<svg class="ic" style="left:16px;top:2211px" width="32" height="30.5" viewBox="0 0 32 30.5"><rect x="0" y="0" width="32" height="30.5" fill="#f2eca6"/><path d="M0 0 H12 C17 3 20 9 19 14 L30 25 V30.5 H0 Z" fill="#f7d055"/><path d="M0 0 H6 C10 4 12 10 11 16 L17 30.5 H0 Z" fill="#f4bd35" opacity="0.6"/><path d="M19 14 L30 25 V30.5 H20 Z" fill="#f8d860" opacity="0.7"/><rect x="0" y="27" width="32" height="3.5" fill="#f5c868"/><path d="M3.1 2.5 V25.3 H31" fill="none" stroke="#c07a18" stroke-width="1.3"/><path d="M1.5 6 H5 M1.5 9 H5 M1.5 12 H5 M1.5 15 H5 M1.5 18 H5 M1.5 21 H5" stroke="#d89a40" stroke-width="0.7"/><path d="M4.4 24.3 L10.7 15.8 L12.5 20.4 L17.9 12.8" fill="none" stroke="#4f5a6e" stroke-width="1.7" stroke-linejoin="miter"/><path d="M17.9 12.8 L19.4 16.1 L29 6.3" fill="none" stroke="#7a5a20" stroke-width="1.7"/><path d="M26.3 5.6 L30.2 4.9 L29.6 8.8 Z" fill="#7a5a20"/><path d="M27 23.6 L30 20.8" stroke="#777" stroke-width="0.9"/></svg>
<div class="tt" style="top:2216.8px;left:68px;letter-spacing:-0.5px;word-spacing:0px">ドバイ原油平均足</div>
<div class="btn" style="left:570px;top:2212px"><i class="mn"></i></div>
<div class="btn" style="left:600px;top:2212px"><i class="mx"></i></div>
<div class="btn cl" style="left:632px;top:2212px"><svg width="27" height="27" viewBox="0 0 27 27"><path d="M7.8 8 L17.8 18 M17.8 8 L7.8 18" stroke="#fff" stroke-width="1"/></svg></div>
<svg class="ch" style="left:14px;top:2241px" width="650" height="608" viewBox="14 2241 650 608" shape-rendering="crispEdges"><rect x="14.5" y="2241.5" width="649" height="607" fill="#fff" stroke="#000" stroke-width="1"/><line x1="92.5" y1="2253" x2="92.5" y2="2796" stroke="#d2d2d2" stroke-width="1"/><line x1="150.5" y1="2253" x2="150.5" y2="2796" stroke="#d2d2d2" stroke-width="1"/><line x1="208.5" y1="2253" x2="208.5" y2="2796" stroke="#d2d2d2" stroke-width="1"/><line x1="267.5" y1="2253" x2="267.5" y2="2796" stroke="#d2d2d2" stroke-width="1"/><line x1="325.5" y1="2253" x2="325.5" y2="2796" stroke="#d2d2d2" stroke-width="1"/><line x1="384.5" y1="2253" x2="384.5" y2="2796" stroke="#d2d2d2" stroke-width="1"/><line x1="442.5" y1="2253" x2="442.5" y2="2796" stroke="#d2d2d2" stroke-width="1"/><line x1="501.5" y1="2253" x2="501.5" y2="2796" stroke="#d2d2d2" stroke-width="1"/><line x1="559.5" y1="2253" x2="559.5" y2="2796" stroke="#d2d2d2" stroke-width="1"/><line x1="34" y1="2331.5" x2="618" y2="2331.5" stroke="#000" stroke-width="1" stroke-dasharray="3 1"/><line x1="34" y1="2408.5" x2="618" y2="2408.5" stroke="#000" stroke-width="1" stroke-dasharray="3 1"/><line x1="34" y1="2486.5" x2="618" y2="2486.5" stroke="#000" stroke-width="1" stroke-dasharray="3 1"/><line x1="34" y1="2563.5" x2="618" y2="2563.5" stroke="#000" stroke-width="1" stroke-dasharray="3 1"/><line x1="34" y1="2641.5" x2="618" y2="2641.5" stroke="#000" stroke-width="1" stroke-dasharray="3 1"/><line x1="34" y1="2718.5" x2="618" y2="2718.5" stroke="#000" stroke-width="1" stroke-dasharray="3 1"/><line x1="150.5" y1="2792" x2="150.5" y2="2796" stroke="#000" stroke-width="1"/><line x1="267.5" y1="2792" x2="267.5" y2="2796" stroke="#000" stroke-width="1"/><line x1="384.5" y1="2792" x2="384.5" y2="2796" stroke="#000" stroke-width="1"/><line x1="501.5" y1="2792" x2="501.5" y2="2796" stroke="#000" stroke-width="1"/><g shape-rendering="auto"><text x="627.3" y="2257.9" class="yl">95000</text><text x="627.3" y="2335.9" class="yl">90000</text><text x="627.3" y="2412.9" class="yl">85000</text><text x="627.3" y="2490.9" class="yl">80000</text><text x="627.3" y="2567.9" class="yl">75000</text><text x="627.3" y="2645.9" class="yl">70000</text><text x="627.3" y="2722.9" class="yl">65000</text><text x="627.3" y="2800.9" class="yl">60000</text><text x="40" y="2814.8" class="xl" text-anchor="middle">2月27日</text><text x="157" y="2814.8" class="xl" text-anchor="middle">3月10日</text><text x="274" y="2814.8" class="xl" text-anchor="middle">3月19日</text><text x="391" y="2814.8" class="xl" text-anchor="middle">3月31日</text><text x="508" y="2814.8" class="xl" text-anchor="middle">4月9日</text></g><clipPath id="cp3"><rect x="34" y="2254" width="584" height="542"/></clipPath><g clip-path="url(#cp3)"><g shape-rendering="auto"><circle cx="325.5" cy="2353" r="3.9" fill="#0000ee"/><path d="M359.5 2420.57 L364.1 2428.68 L354.9 2428.68 Z" fill="#ee1111"/><circle cx="409.5" cy="2360.51" r="3.9" fill="#0000ee"/></g><path shape-rendering="auto" d="M42.5 2728.98 C45.17 2727.58 53 2724.33 58.5 2720.57 C64 2716.82 69.83 2710.55 75.5 2706.45 C81.17 2702.34 87 2699.69 92.5 2695.94 C98 2692.19 103 2687.68 108.5 2683.93 C114 2680.18 119.83 2678.68 125.5 2673.42 C131.17 2668.16 137 2660.01 142.5 2652.4 C148 2644.79 153 2634.28 158.5 2627.77 C164 2621.26 169.83 2618.91 175.5 2613.36 C181.17 2607.81 187 2602.45 192.5 2594.44 C198 2586.43 203 2574.17 208.5 2565.31 C214 2556.45 219.83 2549.55 225.5 2541.29 C231.17 2533.03 236.83 2524.02 242.5 2515.76 C248.17 2507.5 254 2500.5 259.5 2491.74 C265 2482.98 270 2472.97 275.5 2463.21 C281 2453.45 286.83 2440.19 292.5 2433.18 C298.17 2426.17 304 2423.92 309.5 2421.17 C315 2418.42 320 2419.66 325.5 2416.66 C331 2413.66 336.83 2407.25 342.5 2403.15 C348.17 2399.05 354 2395.64 359.5 2392.04 C365 2388.44 370 2384.03 375.5 2381.53 C381 2379.03 386.83 2376.42 392.5 2377.02 C398.17 2377.62 404 2382.78 409.5 2385.13 C415 2387.48 420 2387.89 425.5 2391.14 C431 2394.39 436.83 2399.64 442.5 2404.65 C448.17 2409.66 454 2416.77 459.5 2421.17 C465 2425.57 470 2428.48 475.5 2431.08 C481 2433.68 486.83 2434.43 492.5 2436.78 C498.17 2439.13 503.83 2442.14 509.5 2445.19 C515.17 2448.24 523.67 2453.45 526.5 2455.1" fill="none" stroke="#f00a0a" stroke-width="3.2" stroke-linejoin="round" stroke-linecap="round"/><line x1="42.5" y1="2683" x2="42.5" y2="2725" stroke="#000" stroke-width="1"/><rect x="38.5" y="2702.5" width="8" height="2" fill="#fff" stroke="#000" stroke-width="1"/><line x1="58.5" y1="2615" x2="58.5" y2="2708" stroke="#000" stroke-width="1"/><rect x="54.5" y="2665.5" width="8" height="38" fill="#fff" stroke="#000" stroke-width="1"/><line x1="75.5" y1="2624" x2="75.5" y2="2704" stroke="#000" stroke-width="1"/><rect x="71.5" y="2646.5" width="8" height="39" fill="#fff" stroke="#000" stroke-width="1"/><line x1="92.5" y1="2594" x2="92.5" y2="2695" stroke="#000" stroke-width="1"/><rect x="88.5" y="2639.5" width="8" height="26" fill="#fff" stroke="#000" stroke-width="1"/><line x1="108.5" y1="2631" x2="108.5" y2="2671" stroke="#000" stroke-width="1"/><rect x="104.5" y="2644.5" width="8" height="8" fill="#fff" stroke="#000" stroke-width="1"/><line x1="125.5" y1="2613" x2="125.5" y2="2651" stroke="#000" stroke-width="1"/><rect x="121.5" y="2628.5" width="8" height="20" fill="#fff" stroke="#000" stroke-width="1"/><line x1="142.5" y1="2348" x2="142.5" y2="2639" stroke="#000" stroke-width="1"/><rect x="138.5" y="2483.5" width="8" height="155" fill="#fff" stroke="#000" stroke-width="1"/><line x1="158.5" y1="2373" x2="158.5" y2="2584" stroke="#000" stroke-width="1"/><rect x="154.5" y="2471.5" width="8" height="90" fill="#fff" stroke="#000" stroke-width="1"/><line x1="175.5" y1="2516" x2="175.5" y2="2611" stroke="#000" stroke-width="1"/><rect x="171.5" y="2516.5" width="8" height="50" fill="#000" stroke="#000" stroke-width="1"/><line x1="192.5" y1="2433" x2="192.5" y2="2563" stroke="#000" stroke-width="1"/><rect x="188.5" y="2496.5" width="8" height="45" fill="#fff" stroke="#000" stroke-width="1"/><line x1="208.5" y1="2396" x2="208.5" y2="2519" stroke="#000" stroke-width="1"/><rect x="204.5" y="2438.5" width="8" height="80" fill="#fff" stroke="#000" stroke-width="1"/><line x1="225.5" y1="2366" x2="225.5" y2="2479" stroke="#000" stroke-width="1"/><rect x="221.5" y="2388.5" width="8" height="90" fill="#fff" stroke="#000" stroke-width="1"/><line x1="242.5" y1="2364" x2="242.5" y2="2434" stroke="#000" stroke-width="1"/><rect x="238.5" y="2390.5" width="8" height="43" fill="#fff" stroke="#000" stroke-width="1"/><line x1="259.5" y1="2366" x2="259.5" y2="2441" stroke="#000" stroke-width="1"/><rect x="255.5" y="2408.5" width="8" height="3" fill="#fff" stroke="#000" stroke-width="1"/><line x1="275.5" y1="2327" x2="275.5" y2="2424" stroke="#000" stroke-width="1"/><rect x="271.5" y="2376.5" width="8" height="33" fill="#fff" stroke="#000" stroke-width="1"/><line x1="292.5" y1="2279" x2="292.5" y2="2409" stroke="#000" stroke-width="1"/><rect x="288.5" y="2324.5" width="8" height="68" fill="#fff" stroke="#000" stroke-width="1"/><line x1="309.5" y1="2272" x2="309.5" y2="2465" stroke="#000" stroke-width="1"/><rect x="305.5" y="2355.5" width="8" height="3" fill="#fff" stroke="#000" stroke-width="1"/><line x1="325.5" y1="2356" x2="325.5" y2="2460" stroke="#000" stroke-width="1"/><rect x="321.5" y="2356.5" width="8" height="66" fill="#000" stroke="#000" stroke-width="1"/><line x1="342.5" y1="2382" x2="342.5" y2="2460" stroke="#000" stroke-width="1"/><rect x="338.5" y="2388.5" width="8" height="24" fill="#000" stroke="#000" stroke-width="1"/><line x1="359.5" y1="2353" x2="359.5" y2="2422" stroke="#000" stroke-width="1"/><rect x="355.5" y="2382.5" width="8" height="18" fill="#fff" stroke="#000" stroke-width="1"/><line x1="375.5" y1="2319" x2="375.5" y2="2391" stroke="#000" stroke-width="1"/><rect x="371.5" y="2351.5" width="8" height="39" fill="#fff" stroke="#000" stroke-width="1"/><line x1="392.5" y1="2322" x2="392.5" y2="2394" stroke="#000" stroke-width="1"/><rect x="388.5" y="2358.5" width="8" height="12" fill="#fff" stroke="#000" stroke-width="1"/><line x1="409.5" y1="2364" x2="409.5" y2="2517" stroke="#000" stroke-width="1"/><rect x="405.5" y="2364.5" width="8" height="96" fill="#000" stroke="#000" stroke-width="1"/><line x1="425.5" y1="2412" x2="425.5" y2="2526" stroke="#000" stroke-width="1"/><rect x="421.5" y="2412.5" width="8" height="70" fill="#000" stroke="#000" stroke-width="1"/><line x1="442.5" y1="2446" x2="442.5" y2="2514" stroke="#000" stroke-width="1"/><rect x="438.5" y="2446.5" width="8" height="39" fill="#000" stroke="#000" stroke-width="1"/><line x1="459.5" y1="2465" x2="459.5" y2="2526" stroke="#000" stroke-width="1"/><rect x="455.5" y="2465.5" width="8" height="31" fill="#000" stroke="#000" stroke-width="1"/><line x1="475.5" y1="2435" x2="475.5" y2="2495" stroke="#000" stroke-width="1"/><rect x="471.5" y="2463.5" width="8" height="18" fill="#fff" stroke="#000" stroke-width="1"/><line x1="492.5" y1="2427" x2="492.5" y2="2544" stroke="#000" stroke-width="1"/><rect x="488.5" y="2472.5" width="8" height="17" fill="#000" stroke="#000" stroke-width="1"/><line x1="509.5" y1="2460" x2="509.5" y2="2541" stroke="#000" stroke-width="1"/><rect x="505.5" y="2480.5" width="8" height="18" fill="#000" stroke="#000" stroke-width="1"/><line x1="526.5" y1="2451" x2="526.5" y2="2494" stroke="#000" stroke-width="1"/><rect x="522.5" y="2469.5" width="8" height="20" fill="#fff" stroke="#000" stroke-width="1"/></g><rect x="33.5" y="2253.5" width="585" height="543" fill="none" stroke="#000" stroke-width="1"/></svg>
<div class="tbox" style="top:2209px"></div>
<div class="t" style="top:2220.2px;left:721px;width:357px;font-size:32px">平均足売買法</div>
<div class="tb" style="top:2290px;height:241px"></div>
<div class="hl" style="top:2338px"></div>
<div class="hl" style="top:2386px"></div>
<div class="hl" style="top:2434px"></div>
<div class="vsep" style="top:2388px;height:46px"></div>
<div class="t" style="top:2302.8px;left:722px;width:178px;font-size:28px;letter-spacing:1px">4月10日</div>
<div class="t" style="top:2302.8px;left:900px;width:176px;font-size:28px">終了時点</div>
<div class="t" style="top:2348.8px;left:839px;width:118px;font-size:30px">売り</div>
<div class="t" style="top:2348.8px;left:957px;width:119px;font-size:30px">継続</div>
<div class="t" style="top:2401.8px;left:722px;width:117px;font-size:22px">成立日</div>
<div class="t" style="top:2401.8px;left:839px;width:118px;font-size:22px">4月2日</div>
<div class="t" style="top:2401.8px;left:957px;width:119px;font-size:22px;letter-spacing:0.8px">79460円</div>
<div class="tb" style="top:2546px;height:299px"></div>
<div class="hl" style="top:2594px"></div>
<div class="hl" style="top:2642px"></div>
<div class="hl" style="top:2690px"></div>
<div class="hl" style="top:2738px"></div>
<div class="hl" style="top:2790px"></div>
<div class="t" style="top:2557.8px;left:722px;width:355px;font-size:31px">平均足<span style="display:inline-block;width:13px"></span><span style="font-size:32px;position:relative;top:-2.5px">Data</span></div>
<div class="t" style="top:2603.8px;left:722px;width:178px;font-size:32px">始値</div>
<div class="t" style="top:2604.8px;left:900px;width:176px;font-size:30px">79829</div>
<div class="t" style="top:2651.8px;left:722px;width:178px;font-size:32px">高値</div>
<div class="t" style="top:2652.8px;left:900px;width:176px;font-size:30px">82240</div>
<div class="t" style="top:2699.8px;left:722px;width:178px;font-size:32px">安値</div>
<div class="t" style="top:2700.8px;left:900px;width:176px;font-size:30px">79560</div>
<div class="t" style="top:2749.8px;left:722px;width:178px;font-size:32px">終値</div>
<div class="t" style="top:2750.8px;left:900px;width:176px;font-size:30px">81080</div>
<div class="t" style="top:2806.3px;left:722px;width:200px;font-size:27px;text-align:left;padding-left:27px"><span style="font-size:28px;letter-spacing:1px">10</span><span style="display:inline-block;width:7px"></span>日平均線</div>
<div class="t" style="top:2803.8px;left:900px;width:176px;font-size:30px">82018</div>
<div class="gb" style="top:2880px;height:30px"><span>Trade Strategy Report</span></div>
<div class="bb" style="top:2910px;height:34px"></div>
<svg class="ic" style="left:16px;top:2913px" width="32" height="30.5" viewBox="0 0 32 30.5"><rect x="0" y="0" width="32" height="30.5" fill="#f2eca6"/><path d="M0 0 H12 C17 3 20 9 19 14 L30 25 V30.5 H0 Z" fill="#f7d055"/><path d="M0 0 H6 C10 4 12 10 11 16 L17 30.5 H0 Z" fill="#f4bd35" opacity="0.6"/><path d="M19 14 L30 25 V30.5 H20 Z" fill="#f8d860" opacity="0.7"/><rect x="0" y="27" width="32" height="3.5" fill="#f5c868"/><path d="M3.1 2.5 V25.3 H31" fill="none" stroke="#c07a18" stroke-width="1.3"/><path d="M1.5 6 H5 M1.5 9 H5 M1.5 12 H5 M1.5 15 H5 M1.5 18 H5 M1.5 21 H5" stroke="#d89a40" stroke-width="0.7"/><path d="M4.4 24.3 L10.7 15.8 L12.5 20.4 L17.9 12.8" fill="none" stroke="#4f5a6e" stroke-width="1.7" stroke-linejoin="miter"/><path d="M17.9 12.8 L19.4 16.1 L29 6.3" fill="none" stroke="#7a5a20" stroke-width="1.7"/><path d="M26.3 5.6 L30.2 4.9 L29.6 8.8 Z" fill="#7a5a20"/><path d="M27 23.6 L30 20.8" stroke="#777" stroke-width="0.9"/></svg>
<div class="tt" style="top:2918.8px;left:77px;letter-spacing:0px;word-spacing:0px">日経<span style="font-weight:400">225</span>先物平均足</div>
<div class="btn" style="left:570px;top:2914px"><i class="mn"></i></div>
<div class="btn" style="left:600px;top:2914px"><i class="mx"></i></div>
<div class="btn cl" style="left:632px;top:2914px"><svg width="27" height="27" viewBox="0 0 27 27"><path d="M7.8 8 L17.8 18 M17.8 8 L7.8 18" stroke="#fff" stroke-width="1"/></svg></div>
<svg class="ch" style="left:14px;top:2944px" width="649" height="589" viewBox="14 2944 649 589" shape-rendering="crispEdges"><rect x="14.5" y="2944.5" width="648" height="588" fill="#fff" stroke="#000" stroke-width="1"/><line x1="92.5" y1="2955" x2="92.5" y2="3481" stroke="#d2d2d2" stroke-width="1"/><line x1="150.5" y1="2955" x2="150.5" y2="3481" stroke="#d2d2d2" stroke-width="1"/><line x1="208.5" y1="2955" x2="208.5" y2="3481" stroke="#d2d2d2" stroke-width="1"/><line x1="266.5" y1="2955" x2="266.5" y2="3481" stroke="#d2d2d2" stroke-width="1"/><line x1="325.5" y1="2955" x2="325.5" y2="3481" stroke="#d2d2d2" stroke-width="1"/><line x1="383.5" y1="2955" x2="383.5" y2="3481" stroke="#d2d2d2" stroke-width="1"/><line x1="441.5" y1="2955" x2="441.5" y2="3481" stroke="#d2d2d2" stroke-width="1"/><line x1="500.5" y1="2955" x2="500.5" y2="3481" stroke="#d2d2d2" stroke-width="1"/><line x1="558.5" y1="2955" x2="558.5" y2="3481" stroke="#d2d2d2" stroke-width="1"/><line x1="34" y1="3060.5" x2="616" y2="3060.5" stroke="#000" stroke-width="1" stroke-dasharray="3 1"/><line x1="34" y1="3165.5" x2="616" y2="3165.5" stroke="#000" stroke-width="1" stroke-dasharray="3 1"/><line x1="34" y1="3271.5" x2="616" y2="3271.5" stroke="#000" stroke-width="1" stroke-dasharray="3 1"/><line x1="34" y1="3376.5" x2="616" y2="3376.5" stroke="#000" stroke-width="1" stroke-dasharray="3 1"/><line x1="150.5" y1="3477" x2="150.5" y2="3481" stroke="#000" stroke-width="1"/><line x1="266.5" y1="3477" x2="266.5" y2="3481" stroke="#000" stroke-width="1"/><line x1="383.5" y1="3477" x2="383.5" y2="3481" stroke="#000" stroke-width="1"/><line x1="500.5" y1="3477" x2="500.5" y2="3481" stroke="#000" stroke-width="1"/><g shape-rendering="auto"><text x="625.3" y="2959.9" class="yl">60000</text><text x="625.3" y="3064.9" class="yl">58000</text><text x="625.3" y="3169.9" class="yl">56000</text><text x="625.3" y="3275.9" class="yl">54000</text><text x="625.3" y="3380.9" class="yl">52000</text><text x="625.3" y="3485.9" class="yl">50000</text><text x="40" y="3499.8" class="xl" text-anchor="middle">2月27日</text><text x="157" y="3499.8" class="xl" text-anchor="middle">3月10日</text><text x="273" y="3499.8" class="xl" text-anchor="middle">3月19日</text><text x="390" y="3499.8" class="xl" text-anchor="middle">3月31日</text><text x="507" y="3499.8" class="xl" text-anchor="middle">4月9日</text></g><clipPath id="cp4"><rect x="34" y="2956" width="582" height="525"/></clipPath><g clip-path="url(#cp4)"><g shape-rendering="auto"><circle cx="75.5" cy="3027.07" r="3.9" fill="#0000ee"/><path d="M258.5 3297.64 L264.39 3309.35 L252.61 3309.35 Z" fill="#ee1111"/><circle cx="275.5" cy="3222.87" r="3.9" fill="#0000ee"/><path d="M341.5 3339.09 L347.39 3350.8 L335.61 3350.8 Z" fill="#ee1111"/><circle cx="358.5" cy="3295.24" r="3.9" fill="#0000ee"/><path d="M425.5 3357.7 L430.55 3367.91 L420.45 3367.91 Z" fill="#ee1111"/></g><path shape-rendering="auto" d="M42.5 3084.13 C45.17 3082.98 53 3078.22 58.5 3077.22 C64 3076.22 69.83 3076.72 75.5 3078.12 C81.17 3079.52 87 3082.63 92.5 3085.63 C98 3088.63 103 3092.14 108.5 3096.14 C114 3100.14 119.83 3104.64 125.5 3109.65 C131.17 3114.66 137 3120.16 142.5 3126.17 C148 3132.18 153 3139.93 158.5 3145.69 C164 3151.45 170 3154.2 175.5 3160.71 C181 3167.22 186 3175.97 191.5 3184.73 C197 3193.49 202.83 3204.25 208.5 3213.26 C214.17 3222.27 220 3231.77 225.5 3238.78 C231 3245.79 236 3252.05 241.5 3255.3 C247 3258.55 252.83 3256.55 258.5 3258.3 C264.17 3260.05 270 3262.05 275.5 3265.81 C281 3269.57 286 3276.32 291.5 3280.83 C297 3285.34 302.83 3290.34 308.5 3292.84 C314.17 3295.34 320 3294.09 325.5 3295.84 C331 3297.59 336 3300.35 341.5 3303.35 C347 3306.35 352.83 3310.36 358.5 3313.86 C364.17 3317.36 370 3321.22 375.5 3324.37 C381 3327.52 386 3330.88 391.5 3332.78 C397 3334.68 402.83 3334.53 408.5 3335.78 C414.17 3337.03 420 3338.54 425.5 3340.29 C431 3342.04 436 3346.84 441.5 3346.29 C447 3345.74 452.83 3339.98 458.5 3336.98 C464.17 3333.98 470 3331.37 475.5 3328.27 C481 3325.17 486 3322.51 491.5 3318.36 C497 3314.21 502.83 3309.2 508.5 3303.35 C514.17 3297.49 522.67 3286.58 525.5 3283.23" fill="none" stroke="#f00a0a" stroke-width="3.2" stroke-linejoin="round" stroke-linecap="round"/><line x1="42.5" y1="2994" x2="42.5" y2="3053" stroke="#000" stroke-width="1"/><rect x="38.5" y="3017.5" width="8" height="27" fill="#fff" stroke="#000" stroke-width="1"/><line x1="58.5" y1="2986" x2="58.5" y2="3099" stroke="#000" stroke-width="1"/><rect x="54.5" y="3031.5" width="8" height="4" fill="#000" stroke="#000" stroke-width="1"/><line x1="75.5" y1="3032" x2="75.5" y2="3160" stroke="#000" stroke-width="1"/><rect x="71.5" y="3032.5" width="8" height="84" fill="#000" stroke="#000" stroke-width="1"/><line x1="92.5" y1="3074" x2="92.5" y2="3292" stroke="#000" stroke-width="1"/><rect x="88.5" y="3074.5" width="8" height="154" fill="#000" stroke="#000" stroke-width="1"/><line x1="108.5" y1="3132" x2="108.5" y2="3238" stroke="#000" stroke-width="1"/><rect x="104.5" y="3151.5" width="8" height="53" fill="#000" stroke="#000" stroke-width="1"/><line x1="125.5" y1="3159" x2="125.5" y2="3274" stroke="#000" stroke-width="1"/><rect x="121.5" y="3177.5" width="8" height="27" fill="#000" stroke="#000" stroke-width="1"/><line x1="142.5" y1="3176" x2="142.5" y2="3409" stroke="#000" stroke-width="1"/><rect x="138.5" y="3190.5" width="8" height="89" fill="#000" stroke="#000" stroke-width="1"/><line x1="158.5" y1="3221" x2="158.5" y2="3365" stroke="#000" stroke-width="1"/><rect x="154.5" y="3234.5" width="8" height="61" fill="#000" stroke="#000" stroke-width="1"/><line x1="175.5" y1="3176" x2="175.5" y2="3265" stroke="#000" stroke-width="1"/><rect x="171.5" y="3217.5" width="8" height="47" fill="#fff" stroke="#000" stroke-width="1"/><line x1="191.5" y1="3209" x2="191.5" y2="3283" stroke="#000" stroke-width="1"/><rect x="187.5" y="3241.5" width="8" height="2" fill="#000" stroke="#000" stroke-width="1"/><line x1="208.5" y1="3240" x2="208.5" y2="3335" stroke="#000" stroke-width="1"/><rect x="204.5" y="3241.5" width="8" height="42" fill="#000" stroke="#000" stroke-width="1"/><line x1="225.5" y1="3261" x2="225.5" y2="3352" stroke="#000" stroke-width="1"/><rect x="221.5" y="3261.5" width="8" height="49" fill="#000" stroke="#000" stroke-width="1"/><line x1="241.5" y1="3251" x2="241.5" y2="3315" stroke="#000" stroke-width="1"/><rect x="237.5" y="3285.5" width="8" height="9" fill="#000" stroke="#000" stroke-width="1"/><line x1="258.5" y1="3213" x2="258.5" y2="3290" stroke="#000" stroke-width="1"/><rect x="254.5" y="3257.5" width="8" height="32" fill="#fff" stroke="#000" stroke-width="1"/><line x1="275.5" y1="3228" x2="275.5" y2="3332" stroke="#000" stroke-width="1"/><rect x="271.5" y="3273.5" width="8" height="6" fill="#000" stroke="#000" stroke-width="1"/><line x1="291.5" y1="3276" x2="291.5" y2="3460" stroke="#000" stroke-width="1"/><rect x="287.5" y="3276.5" width="8" height="105" fill="#000" stroke="#000" stroke-width="1"/><line x1="308.5" y1="3270" x2="308.5" y2="3448" stroke="#000" stroke-width="1"/><rect x="304.5" y="3328.5" width="8" height="53" fill="#000" stroke="#000" stroke-width="1"/><line x1="325.5" y1="3282" x2="325.5" y2="3381" stroke="#000" stroke-width="1"/><rect x="321.5" y="3324.5" width="8" height="31" fill="#fff" stroke="#000" stroke-width="1"/><line x1="341.5" y1="3264" x2="341.5" y2="3340" stroke="#000" stroke-width="1"/><rect x="337.5" y="3298.5" width="8" height="41" fill="#fff" stroke="#000" stroke-width="1"/><line x1="358.5" y1="3300" x2="358.5" y2="3373" stroke="#000" stroke-width="1"/><rect x="354.5" y="3319.5" width="8" height="10" fill="#000" stroke="#000" stroke-width="1"/><line x1="375.5" y1="3324" x2="375.5" y2="3457" stroke="#000" stroke-width="1"/><rect x="371.5" y="3324.5" width="8" height="52" fill="#000" stroke="#000" stroke-width="1"/><line x1="391.5" y1="3350" x2="391.5" y2="3448" stroke="#000" stroke-width="1"/><rect x="387.5" y="3350.5" width="8" height="49" fill="#000" stroke="#000" stroke-width="1"/><line x1="408.5" y1="3285" x2="408.5" y2="3415" stroke="#000" stroke-width="1"/><rect x="404.5" y="3340.5" width="8" height="35" fill="#fff" stroke="#000" stroke-width="1"/><line x1="425.5" y1="3234" x2="425.5" y2="3358" stroke="#000" stroke-width="1"/><rect x="421.5" y="3305.5" width="8" height="52" fill="#fff" stroke="#000" stroke-width="1"/><line x1="441.5" y1="3288" x2="441.5" y2="3365" stroke="#000" stroke-width="1"/><rect x="437.5" y="3324.5" width="8" height="7" fill="#fff" stroke="#000" stroke-width="1"/><line x1="458.5" y1="3262" x2="458.5" y2="3329" stroke="#000" stroke-width="1"/><rect x="454.5" y="3298.5" width="8" height="30" fill="#fff" stroke="#000" stroke-width="1"/><line x1="475.5" y1="3260" x2="475.5" y2="3314" stroke="#000" stroke-width="1"/><rect x="471.5" y="3284.5" width="8" height="29" fill="#fff" stroke="#000" stroke-width="1"/><line x1="491.5" y1="3136" x2="491.5" y2="3332" stroke="#000" stroke-width="1"/><rect x="487.5" y="3225.5" width="8" height="73" fill="#fff" stroke="#000" stroke-width="1"/><line x1="508.5" y1="3094" x2="508.5" y2="3263" stroke="#000" stroke-width="1"/><rect x="504.5" y="3139.5" width="8" height="123" fill="#fff" stroke="#000" stroke-width="1"/><line x1="525.5" y1="3107" x2="525.5" y2="3201" stroke="#000" stroke-width="1"/><rect x="521.5" y="3144.5" width="8" height="56" fill="#fff" stroke="#000" stroke-width="1"/></g><rect x="33.5" y="2955.5" width="583" height="526" fill="none" stroke="#000" stroke-width="1"/></svg>
<div class="tbox" style="top:2911px"></div>
<div class="t" style="top:2922.2px;left:721px;width:357px;font-size:32px">平均足売買法</div>
<div class="tb" style="top:2992px;height:241px"></div>
<div class="hl" style="top:3040px"></div>
<div class="hl" style="top:3088px"></div>
<div class="hl" style="top:3136px"></div>
<div class="vsep" style="top:3090px;height:46px"></div>
<div class="t" style="top:3004.8px;left:722px;width:178px;font-size:28px;letter-spacing:1px">4月10日</div>
<div class="t" style="top:3004.8px;left:900px;width:176px;font-size:28px">終了時点</div>
<div class="t" style="top:3050.8px;left:839px;width:118px;font-size:30px">買い</div>
<div class="t" style="top:3050.8px;left:957px;width:119px;font-size:30px">継続</div>
<div class="t" style="top:3103.8px;left:722px;width:117px;font-size:22px">成立日</div>
<div class="t" style="top:3103.8px;left:839px;width:118px;font-size:22px">4月3日</div>
<div class="t" style="top:3103.8px;left:957px;width:119px;font-size:22px;letter-spacing:0.8px">52800円</div>
<div class="tb" style="top:3248px;height:289px"></div>
<div class="hl" style="top:3296px"></div>
<div class="hl" style="top:3344px"></div>
<div class="hl" style="top:3392px"></div>
<div class="hl" style="top:3440px"></div>
<div class="hl" style="top:3488px"></div>
<div class="t" style="top:3259.8px;left:722px;width:355px;font-size:31px">平均足<span style="display:inline-block;width:13px"></span><span style="font-size:32px;position:relative;top:-2.5px">Data</span></div>
<div class="t" style="top:3305.8px;left:722px;width:178px;font-size:32px">始値</div>
<div class="t" style="top:3306.8px;left:900px;width:176px;font-size:30px">55334</div>
<div class="t" style="top:3353.8px;left:722px;width:178px;font-size:32px">高値</div>
<div class="t" style="top:3354.8px;left:900px;width:176px;font-size:30px">57110</div>
<div class="t" style="top:3401.8px;left:722px;width:178px;font-size:32px">安値</div>
<div class="t" style="top:3402.8px;left:900px;width:176px;font-size:30px">55760</div>
<div class="t" style="top:3449.8px;left:722px;width:178px;font-size:32px">終値</div>
<div class="t" style="top:3450.8px;left:900px;width:176px;font-size:30px">56413</div>
<div class="t" style="top:3501.3px;left:722px;width:200px;font-size:27px;text-align:left;padding-left:27px"><span style="font-size:28px;letter-spacing:1px">10</span><span style="display:inline-block;width:7px"></span>日平均線</div>
<div class="t" style="top:3498.8px;left:900px;width:176px;font-size:30px">53755</div>
<div class="gb" style="top:3570px;height:30px"><span>Trade Strategy Report</span></div>
<div class="bb" style="top:3600px;height:34px"></div>
<svg class="ic" style="left:16px;top:3603px" width="32" height="30.5" viewBox="0 0 32 30.5"><rect x="0" y="0" width="32" height="30.5" fill="#f2eca6"/><path d="M0 0 H12 C17 3 20 9 19 14 L30 25 V30.5 H0 Z" fill="#f7d055"/><path d="M0 0 H6 C10 4 12 10 11 16 L17 30.5 H0 Z" fill="#f4bd35" opacity="0.6"/><path d="M19 14 L30 25 V30.5 H20 Z" fill="#f8d860" opacity="0.7"/><rect x="0" y="27" width="32" height="3.5" fill="#f5c868"/><path d="M3.1 2.5 V25.3 H31" fill="none" stroke="#c07a18" stroke-width="1.3"/><path d="M1.5 6 H5 M1.5 9 H5 M1.5 12 H5 M1.5 15 H5 M1.5 18 H5 M1.5 21 H5" stroke="#d89a40" stroke-width="0.7"/><path d="M4.4 24.3 L10.7 15.8 L12.5 20.4 L17.9 12.8" fill="none" stroke="#4f5a6e" stroke-width="1.7" stroke-linejoin="miter"/><path d="M17.9 12.8 L19.4 16.1 L29 6.3" fill="none" stroke="#7a5a20" stroke-width="1.7"/><path d="M26.3 5.6 L30.2 4.9 L29.6 8.8 Z" fill="#7a5a20"/><path d="M27 23.6 L30 20.8" stroke="#777" stroke-width="0.9"/></svg>
<div class="tt" style="top:3608.8px;left:68px;letter-spacing:0px;word-spacing:15px">ドル円 平均足</div>
<div class="btn" style="left:570px;top:3604px"><i class="mn"></i></div>
<div class="btn" style="left:600px;top:3604px"><i class="mx"></i></div>
<div class="btn cl" style="left:632px;top:3604px"><svg width="27" height="27" viewBox="0 0 27 27"><path d="M7.8 8 L17.8 18 M17.8 8 L7.8 18" stroke="#fff" stroke-width="1"/></svg></div>
<svg class="ch" style="left:14px;top:3634px" width="649" height="595" viewBox="14 3634 649 595" shape-rendering="crispEdges"><rect x="14.5" y="3634.5" width="648" height="594" fill="#fff" stroke="#000" stroke-width="1"/><line x1="93.5" y1="3645" x2="93.5" y2="4176" stroke="#d2d2d2" stroke-width="1"/><line x1="152.5" y1="3645" x2="152.5" y2="4176" stroke="#d2d2d2" stroke-width="1"/><line x1="211.5" y1="3645" x2="211.5" y2="4176" stroke="#d2d2d2" stroke-width="1"/><line x1="271.5" y1="3645" x2="271.5" y2="4176" stroke="#d2d2d2" stroke-width="1"/><line x1="330.5" y1="3645" x2="330.5" y2="4176" stroke="#d2d2d2" stroke-width="1"/><line x1="390.5" y1="3645" x2="390.5" y2="4176" stroke="#d2d2d2" stroke-width="1"/><line x1="449.5" y1="3645" x2="449.5" y2="4176" stroke="#d2d2d2" stroke-width="1"/><line x1="508.5" y1="3645" x2="508.5" y2="4176" stroke="#d2d2d2" stroke-width="1"/><line x1="568.5" y1="3645" x2="568.5" y2="4176" stroke="#d2d2d2" stroke-width="1"/><line x1="34" y1="3734.5" x2="627" y2="3734.5" stroke="#000" stroke-width="1" stroke-dasharray="3 1"/><line x1="34" y1="3822.5" x2="627" y2="3822.5" stroke="#000" stroke-width="1" stroke-dasharray="3 1"/><line x1="34" y1="3911.5" x2="627" y2="3911.5" stroke="#000" stroke-width="1" stroke-dasharray="3 1"/><line x1="34" y1="3999.5" x2="627" y2="3999.5" stroke="#000" stroke-width="1" stroke-dasharray="3 1"/><line x1="34" y1="4088.5" x2="627" y2="4088.5" stroke="#000" stroke-width="1" stroke-dasharray="3 1"/><line x1="152.5" y1="4172" x2="152.5" y2="4176" stroke="#000" stroke-width="1"/><line x1="271.5" y1="4172" x2="271.5" y2="4176" stroke="#000" stroke-width="1"/><line x1="390.5" y1="4172" x2="390.5" y2="4176" stroke="#000" stroke-width="1"/><line x1="508.5" y1="4172" x2="508.5" y2="4176" stroke="#000" stroke-width="1"/><g shape-rendering="auto"><text x="636.3" y="3649.9" class="yl">161</text><text x="636.3" y="3738.9" class="yl">160</text><text x="636.3" y="3826.9" class="yl">159</text><text x="636.3" y="3915.9" class="yl">158</text><text x="636.3" y="4003.9" class="yl">157</text><text x="636.3" y="4092.9" class="yl">156</text><text x="636.3" y="4180.9" class="yl">155</text><text x="40" y="4194.8" class="xl" text-anchor="middle">2月27日</text><text x="159" y="4194.8" class="xl" text-anchor="middle">3月10日</text><text x="278" y="4194.8" class="xl" text-anchor="middle">3月19日</text><text x="397" y="4194.8" class="xl" text-anchor="middle">3月30日</text><text x="515" y="4194.8" class="xl" text-anchor="middle">4月8日</text></g><clipPath id="cp5"><rect x="34" y="3646" width="593" height="530"/></clipPath><g clip-path="url(#cp5)"><g shape-rendering="auto"><circle cx="296.5" cy="3780.14" r="3.9" fill="#0000ee"/><path d="M347.5 3867.52 L353.05 3878.63 L341.95 3878.63 Z" fill="#ee1111"/><circle cx="432.5" cy="3768.12" r="3.9" fill="#0000ee"/><path d="M466.5 3814.07 L472.55 3826.08 L460.45 3826.08 Z" fill="#ee1111"/><circle cx="517.5" cy="3753.11" r="3.9" fill="#0000ee"/></g><path shape-rendering="auto" d="M42.5 4191.85 C45.33 4185.79 53.83 4167.47 59.5 4155.51 C65.17 4143.55 70.83 4131.09 76.5 4120.08 C82.17 4109.07 87.83 4098.05 93.5 4089.44 C99.17 4080.83 104.83 4075.93 110.5 4068.42 C116.17 4060.91 121.83 4052.91 127.5 4044.4 C133.17 4035.89 138.83 4025.38 144.5 4017.37 C150.17 4009.36 155.83 4003.36 161.5 3996.35 C167.17 3989.34 173 3983.34 178.5 3975.33 C184 3967.32 189 3958.06 194.5 3948.3 C200 3938.54 205.83 3925.78 211.5 3916.77 C217.17 3907.76 222.83 3900.01 228.5 3894.25 C234.17 3888.49 239.83 3886.74 245.5 3882.24 C251.17 3877.73 256.83 3872.22 262.5 3867.22 C268.17 3862.21 273.83 3856.21 279.5 3852.21 C285.17 3848.21 290.83 3845.95 296.5 3843.2 C302.17 3840.45 307.83 3838.09 313.5 3835.69 C319.17 3833.29 324.83 3830.68 330.5 3828.78 C336.17 3826.88 341.83 3825.73 347.5 3824.28 C353.17 3822.83 358.83 3821.83 364.5 3820.08 C370.17 3818.33 375.83 3815.67 381.5 3813.77 C387.17 3811.87 392.83 3809.61 398.5 3808.66 C404.17 3807.71 409.83 3807.56 415.5 3808.06 C421.17 3808.56 426.83 3811.67 432.5 3811.67 C438.17 3811.67 443.83 3810.06 449.5 3808.06 C455.17 3806.06 460.83 3802.4 466.5 3799.65 C472.17 3796.9 477.83 3794.3 483.5 3791.55 C489.17 3788.8 494.83 3784.44 500.5 3783.14 C506.17 3781.84 511.83 3782.49 517.5 3783.74 C523.17 3784.99 531.67 3789.5 534.5 3790.65" fill="none" stroke="#f00a0a" stroke-width="3.2" stroke-linejoin="round" stroke-linecap="round"/><line x1="42.5" y1="4068" x2="42.5" y2="4130" stroke="#000" stroke-width="1"/><rect x="38.5" y="4089.5" width="8" height="13" fill="#fff" stroke="#000" stroke-width="1"/><line x1="59.5" y1="3934" x2="59.5" y2="4105" stroke="#000" stroke-width="1"/><rect x="55.5" y="4026.5" width="8" height="69" fill="#fff" stroke="#000" stroke-width="1"/><line x1="76.5" y1="3914" x2="76.5" y2="4061" stroke="#000" stroke-width="1"/><rect x="72.5" y="3951.5" width="8" height="109" fill="#fff" stroke="#000" stroke-width="1"/><line x1="93.5" y1="3924" x2="93.5" y2="4017" stroke="#000" stroke-width="1"/><rect x="89.5" y="3968.5" width="8" height="38" fill="#fff" stroke="#000" stroke-width="1"/><line x1="110.5" y1="3925" x2="110.5" y2="4051" stroke="#000" stroke-width="1"/><rect x="106.5" y="3980.5" width="8" height="7" fill="#fff" stroke="#000" stroke-width="1"/><line x1="127.5" y1="3904" x2="127.5" y2="3984" stroke="#000" stroke-width="1"/><rect x="123.5" y="3941.5" width="8" height="42" fill="#fff" stroke="#000" stroke-width="1"/><line x1="144.5" y1="3832" x2="144.5" y2="3963" stroke="#000" stroke-width="1"/><rect x="140.5" y="3908.5" width="8" height="54" fill="#fff" stroke="#000" stroke-width="1"/><line x1="161.5" y1="3900" x2="161.5" y2="3978" stroke="#000" stroke-width="1"/><rect x="157.5" y="3931.5" width="8" height="4" fill="#fff" stroke="#000" stroke-width="1"/><line x1="178.5" y1="3825" x2="178.5" y2="3934" stroke="#000" stroke-width="1"/><rect x="174.5" y="3870.5" width="8" height="63" fill="#fff" stroke="#000" stroke-width="1"/><line x1="194.5" y1="3785" x2="194.5" y2="3903" stroke="#000" stroke-width="1"/><rect x="190.5" y="3817.5" width="8" height="85" fill="#fff" stroke="#000" stroke-width="1"/><line x1="211.5" y1="3757" x2="211.5" y2="3860" stroke="#000" stroke-width="1"/><rect x="207.5" y="3782.5" width="8" height="77" fill="#fff" stroke="#000" stroke-width="1"/><line x1="228.5" y1="3758" x2="228.5" y2="3837" stroke="#000" stroke-width="1"/><rect x="224.5" y="3798.5" width="8" height="23" fill="#fff" stroke="#000" stroke-width="1"/><line x1="245.5" y1="3779" x2="245.5" y2="3850" stroke="#000" stroke-width="1"/><rect x="241.5" y="3809.5" width="8" height="11" fill="#000" stroke="#000" stroke-width="1"/><line x1="262.5" y1="3743" x2="262.5" y2="3863" stroke="#000" stroke-width="1"/><rect x="258.5" y="3793.5" width="8" height="21" fill="#fff" stroke="#000" stroke-width="1"/><line x1="279.5" y1="3747" x2="279.5" y2="3958" stroke="#000" stroke-width="1"/><rect x="275.5" y="3804.5" width="8" height="44" fill="#000" stroke="#000" stroke-width="1"/><line x1="296.5" y1="3789" x2="296.5" y2="3950" stroke="#000" stroke-width="1"/><rect x="292.5" y="3825.5" width="8" height="46" fill="#000" stroke="#000" stroke-width="1"/><line x1="313.5" y1="3765" x2="313.5" y2="3912" stroke="#000" stroke-width="1"/><rect x="309.5" y="3837.5" width="8" height="11" fill="#fff" stroke="#000" stroke-width="1"/><line x1="330.5" y1="3806" x2="330.5" y2="3898" stroke="#000" stroke-width="1"/><rect x="326.5" y="3842.5" width="8" height="14" fill="#000" stroke="#000" stroke-width="1"/><line x1="347.5" y1="3779" x2="347.5" y2="3866" stroke="#000" stroke-width="1"/><rect x="343.5" y="3819.5" width="8" height="31" fill="#fff" stroke="#000" stroke-width="1"/><line x1="364.5" y1="3748" x2="364.5" y2="3836" stroke="#000" stroke-width="1"/><rect x="360.5" y="3770.5" width="8" height="65" fill="#fff" stroke="#000" stroke-width="1"/><line x1="381.5" y1="3698" x2="381.5" y2="3803" stroke="#000" stroke-width="1"/><rect x="377.5" y="3737.5" width="8" height="65" fill="#fff" stroke="#000" stroke-width="1"/><line x1="398.5" y1="3694" x2="398.5" y2="3796" stroke="#000" stroke-width="1"/><rect x="394.5" y="3740.5" width="8" height="29" fill="#fff" stroke="#000" stroke-width="1"/><line x1="415.5" y1="3737" x2="415.5" y2="3856" stroke="#000" stroke-width="1"/><rect x="411.5" y="3755.5" width="8" height="45" fill="#000" stroke="#000" stroke-width="1"/><line x1="432.5" y1="3777" x2="432.5" y2="3889" stroke="#000" stroke-width="1"/><rect x="428.5" y="3777.5" width="8" height="73" fill="#000" stroke="#000" stroke-width="1"/><line x1="449.5" y1="3757" x2="449.5" y2="3866" stroke="#000" stroke-width="1"/><rect x="445.5" y="3810.5" width="8" height="3" fill="#fff" stroke="#000" stroke-width="1"/><line x1="466.5" y1="3759" x2="466.5" y2="3812" stroke="#000" stroke-width="1"/><rect x="462.5" y="3773.5" width="8" height="38" fill="#fff" stroke="#000" stroke-width="1"/><line x1="483.5" y1="3751" x2="483.5" y2="3799" stroke="#000" stroke-width="1"/><rect x="479.5" y="3772.5" width="8" height="19" fill="#fff" stroke="#000" stroke-width="1"/><line x1="500.5" y1="3733" x2="500.5" y2="3782" stroke="#000" stroke-width="1"/><rect x="496.5" y="3761.5" width="8" height="20" fill="#fff" stroke="#000" stroke-width="1"/><line x1="517.5" y1="3763" x2="517.5" y2="3923" stroke="#000" stroke-width="1"/><rect x="513.5" y="3772.5" width="8" height="59" fill="#000" stroke="#000" stroke-width="1"/><line x1="534.5" y1="3796" x2="534.5" y2="3875" stroke="#000" stroke-width="1"/><rect x="530.5" y="3800.5" width="8" height="40" fill="#000" stroke="#000" stroke-width="1"/></g><rect x="33.5" y="3645.5" width="594" height="531" fill="none" stroke="#000" stroke-width="1"/></svg>
<div class="tbox" style="top:3601px"></div>
<div class="t" style="top:3612.2px;left:721px;width:357px;font-size:32px">平均足売買法</div>
<div class="tb" style="top:3682px;height:241px"></div>
<div class="hl" style="top:3730px"></div>
<div class="hl" style="top:3778px"></div>
<div class="hl" style="top:3826px"></div>
<div class="vsep" style="top:3780px;height:46px"></div>
<div class="t" style="top:3694.8px;left:722px;width:178px;font-size:28px;letter-spacing:1px">4月9日</div>
<div class="t" style="top:3694.8px;left:900px;width:176px;font-size:28px">終了時点</div>
<div class="t" style="top:3740.8px;left:839px;width:118px;font-size:30px">売り</div>
<div class="t" style="top:3740.8px;left:957px;width:119px;font-size:30px">継続</div>
<div class="t" style="top:3793.8px;left:722px;width:117px;font-size:22px">成立日</div>
<div class="t" style="top:3793.8px;left:839px;width:118px;font-size:22px">4月9日</div>
<div class="t" style="top:3793.8px;left:957px;width:119px;font-size:22px;letter-spacing:0.8px">158.5円</div>
<div class="tb" style="top:3938px;height:289px"></div>
<div class="hl" style="top:3986px"></div>
<div class="hl" style="top:4034px"></div>
<div class="hl" style="top:4082px"></div>
<div class="hl" style="top:4130px"></div>
<div class="hl" style="top:4178px"></div>
<div class="t" style="top:3949.8px;left:722px;width:355px;font-size:31px">平均足<span style="display:inline-block;width:13px"></span><span style="font-size:32px;position:relative;top:-2.5px">Data</span></div>
<div class="t" style="top:3995.8px;left:722px;width:178px;font-size:32px">始値</div>
<div class="t" style="top:3996.8px;left:895.5px;width:176px;font-size:30px">159<span style="display:inline-block;width:10px;text-align:center">.</span>25</div>
<div class="t" style="top:4043.8px;left:722px;width:178px;font-size:32px">高値</div>
<div class="t" style="top:4044.8px;left:895.5px;width:176px;font-size:30px">159<span style="display:inline-block;width:10px;text-align:center">.</span>29</div>
<div class="t" style="top:4091.8px;left:722px;width:178px;font-size:32px">安値</div>
<div class="t" style="top:4092.8px;left:895.5px;width:176px;font-size:30px">158<span style="display:inline-block;width:10px;text-align:center">.</span>42</div>
<div class="t" style="top:4139.8px;left:722px;width:178px;font-size:32px">終値</div>
<div class="t" style="top:4140.8px;left:895.5px;width:176px;font-size:30px">158<span style="display:inline-block;width:10px;text-align:center">.</span>81</div>
<div class="t" style="top:4191.3px;left:722px;width:200px;font-size:27px;text-align:left;padding-left:27px"><span style="font-size:28px;letter-spacing:1px">10</span><span style="display:inline-block;width:7px"></span>日平均線</div>
<div class="t" style="top:4188.8px;left:900px;width:176px;font-size:30px">159<span style="display:inline-block;width:10px;text-align:center">.</span>36</div>
</body></html>
